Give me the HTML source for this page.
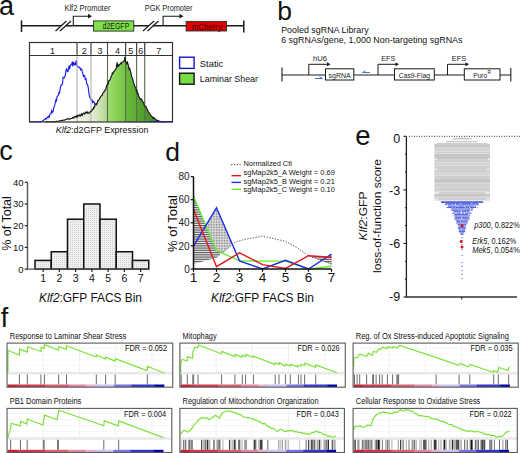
<!DOCTYPE html>
<html><head><meta charset="utf-8"><style>
html,body{margin:0;padding:0;background:#fff;width:520px;height:453px;overflow:hidden}
svg{display:block}
text{font-family:"Liberation Sans",sans-serif}
</style></head><body>
<svg width="520" height="453" viewBox="0 0 520 453" font-family="Liberation Sans">
<text x="-1.00" y="14.60" font-size="27" text-anchor="start" fill="#111" >a</text>
<g stroke="#1a1a1a" stroke-width="1.5" fill="none">
<line x1="21.5" y1="25.7" x2="243.8" y2="25.7"/>
<line x1="21.5" y1="20.4" x2="21.5" y2="32"/>
<line x1="243.8" y1="20.6" x2="243.8" y2="32.6"/>
</g>
<polygon points="55.5,31 66.5,21 71.0,21 60.0,31" fill="#fff"/>
<line x1="55.5" y1="31" x2="66.5" y2="21" stroke="#1a1a1a" stroke-width="1.2"/>
<line x1="60.0" y1="31" x2="71.0" y2="21" stroke="#1a1a1a" stroke-width="1.2"/>
<polygon points="143,31 154,21 158.5,21 147.5,31" fill="#fff"/>
<line x1="143" y1="31" x2="154" y2="21" stroke="#1a1a1a" stroke-width="1.2"/>
<line x1="147.5" y1="31" x2="158.5" y2="21" stroke="#1a1a1a" stroke-width="1.2"/>
<polyline points="73.3,25.7 73.3,16.2 89,16.2" fill="none" stroke="#1a1a1a" stroke-width="1.1"/>
<polygon points="88,13.8 92,16.2 88,18.6" fill="#1a1a1a"/>
<polyline points="163.1,25.7 163.1,16.2 180.5,16.2" fill="none" stroke="#1a1a1a" stroke-width="1.1"/>
<polygon points="179.5,13.8 183.5,16.2 179.5,18.6" fill="#1a1a1a"/>
<rect x="93.5" y="20.9" width="40.3" height="10.2" fill="#80e04c" stroke="#2a2a2a" stroke-width="0.9"/>
<text x="115.90" y="29.40" font-size="8.3" text-anchor="middle" fill="#142008" textLength="26.8" lengthAdjust="spacingAndGlyphs" >d2EGFP</text>
<rect x="186.1" y="21.4" width="40.4" height="9.6" fill="#e00000" stroke="#2a2a2a" stroke-width="0.9"/>
<text x="206.80" y="29.80" font-size="8.3" text-anchor="middle" fill="#3a0000" textLength="30" lengthAdjust="spacingAndGlyphs" >mCherry</text>
<text x="64.40" y="10.80" font-size="8.5" text-anchor="start" fill="#1a1a1a" textLength="46" lengthAdjust="spacingAndGlyphs" >Klf2 Promoter</text>
<text x="144.80" y="10.80" font-size="8.5" text-anchor="start" fill="#1a1a1a" textLength="47.7" lengthAdjust="spacingAndGlyphs" >PGK Promoter</text>
<defs><clipPath id="gclip"><path d="M29.5,121.8 L29.5,121.8 L30.1,121.8 L30.7,121.8 L31.3,121.8 L31.9,121.8 L32.5,121.8 L33.1,121.8 L33.7,121.8 L34.3,121.8 L34.9,121.8 L35.5,121.8 L36.1,121.8 L36.7,121.8 L37.3,121.8 L37.9,121.8 L38.5,121.8 L39.1,121.8 L39.7,121.8 L40.3,121.8 L40.9,121.8 L41.5,121.8 L42.1,121.8 L42.7,121.8 L43.3,121.8 L43.9,121.8 L44.5,121.8 L45.1,121.8 L45.7,121.8 L46.3,121.8 L46.9,121.8 L47.5,121.8 L48.1,121.8 L48.7,121.8 L49.3,121.8 L49.9,121.8 L50.5,121.8 L51.1,121.8 L51.7,121.8 L52.3,121.8 L52.9,121.7 L53.5,121.7 L54.1,121.7 L54.7,121.6 L55.3,121.6 L55.9,121.5 L56.5,121.4 L57.1,121.3 L57.7,121.3 L58.3,121.2 L58.9,121.1 L59.5,120.9 L60.1,120.8 L60.7,120.7 L61.3,120.4 L61.9,120.7 L62.5,120.3 L63.1,120.2 L63.7,120.1 L64.3,120.1 L64.9,120.0 L65.5,119.6 L66.1,119.3 L66.7,119.1 L67.3,118.9 L67.9,119.3 L68.5,118.6 L69.1,118.9 L69.7,119.1 L70.3,119.0 L70.9,118.5 L71.5,118.4 L72.1,118.5 L72.7,117.5 L73.3,117.3 L73.9,118.1 L74.5,116.6 L75.1,116.4 L75.7,117.0 L76.3,117.2 L76.9,115.7 L77.5,116.8 L78.1,115.2 L78.7,115.6 L79.3,116.0 L79.9,114.8 L80.5,115.9 L81.1,114.9 L81.7,113.8 L82.3,115.3 L82.9,114.0 L83.5,113.3 L84.1,112.8 L84.7,114.2 L85.3,113.3 L85.9,112.0 L86.5,112.5 L87.1,113.2 L87.7,111.9 L88.3,113.0 L88.9,113.3 L89.5,112.9 L90.1,111.7 L90.7,111.9 L91.3,111.0 L91.9,110.8 L92.5,109.2 L93.1,109.4 L93.7,107.3 L94.3,107.6 L94.9,105.6 L95.5,104.6 L96.1,103.5 L96.7,104.6 L97.3,102.9 L97.9,100.5 L98.5,100.6 L99.1,99.5 L99.7,98.0 L100.3,97.8 L100.9,96.2 L101.5,95.7 L102.1,95.5 L102.7,93.4 L103.3,92.8 L103.9,92.1 L104.5,90.7 L105.1,90.3 L105.7,89.4 L106.3,87.0 L106.9,84.9 L107.5,84.0 L108.1,84.2 L108.7,80.8 L109.3,80.8 L109.9,79.9 L110.5,78.5 L111.1,76.7 L111.7,75.7 L112.3,73.0 L112.9,73.6 L113.5,72.2 L114.1,71.0 L114.7,70.9 L115.3,69.6 L115.9,69.4 L116.5,66.4 L117.1,62.3 L117.7,66.5 L118.3,65.1 L118.9,65.8 L119.5,64.3 L120.1,63.9 L120.7,63.1 L121.3,64.0 L121.9,62.2 L122.5,62.1 L123.1,61.9 L123.7,61.0 L124.3,60.9 L124.9,56.8 L125.5,61.7 L126.1,62.1 L126.7,63.7 L127.3,62.1 L127.9,63.7 L128.5,66.0 L129.1,69.2 L129.7,68.4 L130.3,70.6 L130.9,72.4 L131.5,76.1 L132.1,77.5 L132.7,79.1 L133.3,81.8 L133.9,83.4 L134.5,86.2 L135.1,86.7 L135.7,86.9 L136.3,90.9 L136.9,90.5 L137.5,93.4 L138.1,93.5 L138.7,96.0 L139.3,97.3 L139.9,98.6 L140.5,99.6 L141.1,98.8 L141.7,99.1 L142.3,101.6 L142.9,101.9 L143.5,102.1 L144.1,105.0 L144.7,105.8 L145.3,106.5 L145.9,106.4 L146.5,108.5 L147.1,109.1 L147.7,110.6 L148.3,111.9 L148.9,112.4 L149.5,113.4 L150.1,114.3 L150.7,115.6 L151.3,115.8 L151.9,116.7 L152.5,117.2 L153.1,118.1 L153.7,117.5 L154.3,118.5 L154.9,118.8 L155.5,119.2 L156.1,120.0 L156.7,120.1 L157.3,120.4 L157.9,120.5 L158.5,120.8 L159.1,121.0 L159.7,121.2 L160.3,121.4 L160.9,121.5 L161.5,121.6 L162.1,121.6 L162.7,121.7 L163.3,121.7 L163.9,121.7 L164.5,121.8 L165.1,121.8 L165.7,121.8 L166.3,121.8 L166.9,121.8 L167.5,121.8 L168.1,121.8 L168.7,121.8 L169.3,121.8 L169.9,121.8 L170.5,121.8 L171.1,121.8 L171.7,121.8 L172.3,121.8 L172.5,121.8 Z"/></clipPath>
<linearGradient id="gg0" x1="0" x2="1" y1="0" y2="0"><stop offset="0" stop-color="#ffffff"/><stop offset="1" stop-color="#f4f8ee"/></linearGradient>
<linearGradient id="gg1" x1="0" x2="1" y1="0" y2="0"><stop offset="0" stop-color="#eef4e4"/><stop offset="1" stop-color="#dfecce"/></linearGradient>
<linearGradient id="gg2" x1="0" x2="1" y1="0" y2="0"><stop offset="0" stop-color="#e6efd8"/><stop offset="1" stop-color="#b4d690"/></linearGradient>
<linearGradient id="gg3" x1="0" x2="1" y1="0" y2="0"><stop offset="0" stop-color="#9ede70"/><stop offset="1" stop-color="#72c440"/></linearGradient>
<linearGradient id="gg4" x1="0" x2="1" y1="0" y2="0"><stop offset="0" stop-color="#6aba3a"/><stop offset="1" stop-color="#5cac30"/></linearGradient>
<linearGradient id="gg5" x1="0" x2="1" y1="0" y2="0"><stop offset="0" stop-color="#5aa630"/><stop offset="1" stop-color="#529e2a"/></linearGradient>
<linearGradient id="gg6" x1="0" x2="1" y1="0" y2="0"><stop offset="0" stop-color="#4e9828"/><stop offset="1" stop-color="#408a20"/></linearGradient>
</defs>
<polyline points="29.5,121.8 30.1,121.8 30.7,121.8 31.3,121.8 31.9,121.8 32.5,121.8 33.1,121.8 33.7,121.8 34.3,121.8 34.9,121.8 35.5,121.8 36.1,121.8 36.7,121.8 37.3,121.8 37.9,121.8 38.5,121.8 39.1,121.8 39.7,121.8 40.3,121.8 40.9,121.7 41.5,121.5 42.1,121.3 42.7,120.9 43.3,120.6 43.9,120.0 44.5,119.4 45.1,119.2 45.7,118.5 46.3,119.1 46.9,117.9 47.5,117.1 48.1,117.8 48.7,116.2 49.3,116.8 49.9,114.0 50.5,113.7 51.1,113.7 51.7,110.8 52.3,112.4 52.9,111.9 53.5,109.4 54.1,106.7 54.7,105.4 55.3,102.7 55.9,99.9 56.5,100.8 57.1,96.6 57.7,95.9 58.3,95.3 58.9,92.6 59.5,92.9 60.1,89.4 60.7,86.1 61.3,84.9 61.9,85.0 62.5,83.6 63.1,77.3 63.7,77.5 64.3,77.7 64.9,76.2 65.5,74.3 66.1,69.6 66.7,68.8 67.3,71.3 67.9,71.8 68.5,69.2 69.1,65.6 69.7,69.1 70.3,65.4 70.9,65.0 71.5,64.5 72.1,62.8 72.7,66.3 73.3,61.8 73.9,64.2 74.5,64.9 75.1,63.2 75.7,64.3 76.3,60.2 76.9,64.8 77.5,66.8 78.1,66.9 78.7,67.1 79.3,67.6 79.9,67.6 80.5,69.8 81.1,69.0 81.7,69.1 82.3,71.7 82.9,73.9 83.5,76.4 84.1,75.5 84.7,75.7 85.3,79.8 85.9,78.0 86.5,82.8 87.1,84.5 87.7,84.8 88.3,88.2 88.9,93.2 89.5,96.8 90.1,97.7 90.7,99.3 91.3,100.1 91.9,99.6 92.5,103.2 93.1,101.3 93.7,101.7 94.3,102.3 94.9,104.7 95.5,105.3 96.1,107.3 96.7,107.3 97.3,108.8 97.9,109.9 98.5,111.6 99.1,112.8 99.7,112.6 100.3,112.0 100.9,113.7 101.5,114.3 102.1,115.5 102.7,116.6 103.3,116.8 103.9,116.5 104.5,117.5 105.1,117.0 105.7,117.6 106.3,118.3 106.9,118.9 107.5,118.9 108.1,119.7 108.7,119.4 109.3,119.3 109.9,120.0 110.5,120.1 111.1,120.1 111.7,120.0 112.3,120.1 112.9,120.5 113.5,120.3 114.1,120.4 114.7,120.3 115.3,120.5 115.9,120.7 116.5,120.5 117.1,120.6 117.7,120.7 118.3,120.8 118.9,120.9 119.5,120.9 120.1,121.0 120.7,121.1 121.3,121.1 121.9,121.2 122.5,121.2 123.1,121.3 123.7,121.3 124.3,121.4 124.9,121.4 125.5,121.5 126.1,121.5 126.7,121.5 127.3,121.6 127.9,121.6 128.5,121.6 129.1,121.6 129.7,121.7 130.3,121.7 130.9,121.7 131.5,121.7 132.1,121.7 132.7,121.8 133.3,121.8 133.9,121.8 134.5,121.8 135.1,121.8 135.7,121.8 136.3,121.8 136.9,121.8 137.5,121.8 138.1,121.8 138.7,121.8 139.3,121.8 139.9,121.8 140.5,121.8 141.1,121.8 141.7,121.8 142.3,121.8 142.9,121.8 143.5,121.8 144.1,121.8 144.7,121.8 145.3,121.8 145.9,121.8 146.5,121.8 147.1,121.8 147.7,121.8 148.3,121.8 148.9,121.8 149.5,121.8 150.1,121.8 150.7,121.8 151.3,121.8 151.9,121.8 152.5,121.8 153.1,121.8 153.7,121.8 154.3,121.8 154.9,121.8 155.5,121.8 156.1,121.8 156.7,121.8 157.3,121.8 157.9,121.8 158.5,121.8 159.1,121.8 159.7,121.8 160.3,121.8 160.9,121.8 161.5,121.8 162.1,121.8 162.7,121.8 163.3,121.8 163.9,121.8 164.5,121.8 165.1,121.8 165.7,121.8 166.3,121.8 166.9,121.8 167.5,121.8 168.1,121.8 168.7,121.8 169.3,121.8 169.9,121.8 170.5,121.8 171.1,121.8 171.7,121.8 172.3,121.8" fill="none" stroke="#1414f0" stroke-width="1.1"/>
<g clip-path="url(#gclip)">
<rect x="29.5" y="42.5" width="47.5" height="79.5" fill="url(#gg0)"/>
<rect x="77" y="42.5" width="14" height="79.5" fill="url(#gg1)"/>
<rect x="91" y="42.5" width="16.5" height="79.5" fill="url(#gg2)"/>
<rect x="107.5" y="42.5" width="18.099999999999994" height="79.5" fill="url(#gg3)"/>
<rect x="125.6" y="42.5" width="11.0" height="79.5" fill="url(#gg4)"/>
<rect x="136.6" y="42.5" width="8.099999999999994" height="79.5" fill="url(#gg5)"/>
<rect x="144.7" y="42.5" width="27.80000000000001" height="79.5" fill="url(#gg6)"/>
</g>
<line x1="77" y1="42.5" x2="77" y2="122" stroke="#b4b4b4" stroke-width="1.1"/>
<line x1="91" y1="42.5" x2="91" y2="122" stroke="#b4b4b4" stroke-width="1.1"/>
<line x1="107.5" y1="42.5" x2="107.5" y2="122" stroke="#5a6a50" stroke-width="1.1"/>
<line x1="125.6" y1="42.5" x2="125.6" y2="122" stroke="#5a6a50" stroke-width="1.1"/>
<line x1="136.6" y1="42.5" x2="136.6" y2="122" stroke="#5a6a50" stroke-width="1.1"/>
<line x1="144.7" y1="42.5" x2="144.7" y2="122" stroke="#5a6a50" stroke-width="1.1"/>
<polyline points="45.1,121.8 45.7,121.8 46.3,121.8 46.9,121.8 47.5,121.8 48.1,121.8 48.7,121.8 49.3,121.8 49.9,121.8 50.5,121.8 51.1,121.8 51.7,121.8 52.3,121.8 52.9,121.7 53.5,121.7 54.1,121.7 54.7,121.6 55.3,121.6 55.9,121.5 56.5,121.4 57.1,121.3 57.7,121.3 58.3,121.2 58.9,121.1 59.5,120.9 60.1,120.8 60.7,120.7 61.3,120.4 61.9,120.7 62.5,120.3 63.1,120.2 63.7,120.1 64.3,120.1 64.9,120.0 65.5,119.6 66.1,119.3 66.7,119.1 67.3,118.9 67.9,119.3 68.5,118.6 69.1,118.9 69.7,119.1 70.3,119.0 70.9,118.5 71.5,118.4 72.1,118.5 72.7,117.5 73.3,117.3 73.9,118.1 74.5,116.6 75.1,116.4 75.7,117.0 76.3,117.2 76.9,115.7 77.5,116.8 78.1,115.2 78.7,115.6 79.3,116.0 79.9,114.8 80.5,115.9 81.1,114.9 81.7,113.8 82.3,115.3 82.9,114.0 83.5,113.3 84.1,112.8 84.7,114.2 85.3,113.3 85.9,112.0 86.5,112.5 87.1,113.2 87.7,111.9 88.3,113.0 88.9,113.3 89.5,112.9 90.1,111.7 90.7,111.9 91.3,111.0 91.9,110.8 92.5,109.2 93.1,109.4 93.7,107.3 94.3,107.6 94.9,105.6 95.5,104.6 96.1,103.5 96.7,104.6 97.3,102.9 97.9,100.5 98.5,100.6 99.1,99.5 99.7,98.0 100.3,97.8 100.9,96.2 101.5,95.7 102.1,95.5 102.7,93.4 103.3,92.8 103.9,92.1 104.5,90.7 105.1,90.3 105.7,89.4 106.3,87.0 106.9,84.9 107.5,84.0 108.1,84.2 108.7,80.8 109.3,80.8 109.9,79.9 110.5,78.5 111.1,76.7 111.7,75.7 112.3,73.0 112.9,73.6 113.5,72.2 114.1,71.0 114.7,70.9 115.3,69.6 115.9,69.4 116.5,66.4 117.1,62.3 117.7,66.5 118.3,65.1 118.9,65.8 119.5,64.3 120.1,63.9 120.7,63.1 121.3,64.0 121.9,62.2 122.5,62.1 123.1,61.9 123.7,61.0 124.3,60.9 124.9,56.8 125.5,61.7 126.1,62.1 126.7,63.7 127.3,62.1 127.9,63.7 128.5,66.0 129.1,69.2 129.7,68.4 130.3,70.6 130.9,72.4 131.5,76.1 132.1,77.5 132.7,79.1 133.3,81.8 133.9,83.4 134.5,86.2 135.1,86.7 135.7,86.9 136.3,90.9 136.9,90.5 137.5,93.4 138.1,93.5 138.7,96.0 139.3,97.3 139.9,98.6 140.5,99.6 141.1,98.8 141.7,99.1 142.3,101.6 142.9,101.9 143.5,102.1 144.1,105.0 144.7,105.8 145.3,106.5 145.9,106.4 146.5,108.5 147.1,109.1 147.7,110.6 148.3,111.9 148.9,112.4 149.5,113.4 150.1,114.3 150.7,115.6 151.3,115.8 151.9,116.7 152.5,117.2 153.1,118.1 153.7,117.5 154.3,118.5 154.9,118.8 155.5,119.2 156.1,120.0 156.7,120.1 157.3,120.4 157.9,120.5 158.5,120.8 159.1,121.0 159.7,121.2 160.3,121.4 160.9,121.5 161.5,121.6 162.1,121.6 162.7,121.7 163.3,121.7 163.9,121.7 164.5,121.8 165.1,121.8 165.7,121.8" fill="none" stroke="#111" stroke-width="1.1"/>
<line x1="150" y1="121.5" x2="172.5" y2="121.5" stroke="#1414f0" stroke-width="1"/>
<rect x="29.5" y="42.5" width="143.0" height="79.5" fill="none" stroke="#333" stroke-width="1.2"/>
<line x1="29.5" y1="55.5" x2="172.5" y2="55.5" stroke="#333" stroke-width="1"/>
<line x1="77" y1="42.5" x2="77" y2="55.5" stroke="#444" stroke-width="1"/>
<line x1="91" y1="42.5" x2="91" y2="55.5" stroke="#444" stroke-width="1"/>
<line x1="107.5" y1="42.5" x2="107.5" y2="55.5" stroke="#444" stroke-width="1"/>
<line x1="125.6" y1="42.5" x2="125.6" y2="55.5" stroke="#444" stroke-width="1"/>
<line x1="136.6" y1="42.5" x2="136.6" y2="55.5" stroke="#444" stroke-width="1"/>
<line x1="144.7" y1="42.5" x2="144.7" y2="55.5" stroke="#444" stroke-width="1"/>
<text x="52.50" y="53.60" font-size="9" text-anchor="middle" fill="#222" >1</text>
<text x="84.20" y="53.60" font-size="9" text-anchor="middle" fill="#222" >2</text>
<text x="100.00" y="53.60" font-size="9" text-anchor="middle" fill="#222" >3</text>
<text x="117.50" y="53.60" font-size="9" text-anchor="middle" fill="#222" >4</text>
<text x="130.80" y="53.60" font-size="9" text-anchor="middle" fill="#222" >5</text>
<text x="140.70" y="53.60" font-size="9" text-anchor="middle" fill="#222" >6</text>
<text x="158.70" y="53.60" font-size="9" text-anchor="middle" fill="#222" >7</text>
<text x="55.70" y="132.60" font-size="9.6" text-anchor="start" fill="#111" textLength="92.7" lengthAdjust="spacingAndGlyphs" ><tspan font-style="italic">Klf2</tspan>:d2GFP Expression</text>
<rect x="179.6" y="57.2" width="14.5" height="11.2" fill="#fff" stroke="#1515cc" stroke-width="1.4"/>
<rect x="179.6" y="73.2" width="14.5" height="11" fill="#77dd44" stroke="#111" stroke-width="1.4"/>
<text x="199.80" y="66.80" font-size="9.6" text-anchor="start" fill="#111" textLength="23.5" lengthAdjust="spacingAndGlyphs" >Static</text>
<text x="199.80" y="82.40" font-size="9.4" text-anchor="start" fill="#111" textLength="58.2" lengthAdjust="spacingAndGlyphs" >Laminar Shear</text>
<text x="277.20" y="19.50" font-size="26.5" text-anchor="start" fill="#111" >b</text>
<text x="281.20" y="32.80" font-size="9.4" text-anchor="start" fill="#111" textLength="87.5" lengthAdjust="spacingAndGlyphs" >Pooled sgRNA Library</text>
<text x="281.20" y="42.90" font-size="9.4" text-anchor="start" fill="#111" textLength="181.3" lengthAdjust="spacingAndGlyphs" >6 sgRNAs/gene, 1,000 Non-targeting sgRNAs</text>
<g stroke="#1a1a1a" stroke-width="1.1" fill="none">
<line x1="282" y1="75" x2="510.8" y2="75"/>
<line x1="282" y1="67.5" x2="282" y2="81.5"/>
<line x1="510.8" y1="68" x2="510.8" y2="81.5"/>
</g>
<polyline points="308.8,75 308.8,64.3 327.5,64.3" fill="none" stroke="#1a1a1a" stroke-width="1"/>
<polygon points="327.0,62.3 330.5,64.3 327.0,66.3" fill="#1a1a1a"/>
<polyline points="378,75 378,64.3 396,64.3" fill="none" stroke="#1a1a1a" stroke-width="1"/>
<polygon points="395.5,62.3 399,64.3 395.5,66.3" fill="#1a1a1a"/>
<polyline points="447.5,75 447.5,64.3 466,64.3" fill="none" stroke="#1a1a1a" stroke-width="1"/>
<polygon points="465.5,62.3 469,64.3 465.5,66.3" fill="#1a1a1a"/>
<rect x="325.5" y="68.8" width="28.30000000000001" height="11.2" fill="#fff" stroke="#1a1a1a" stroke-width="1"/>
<rect x="394.5" y="68.8" width="39.80000000000001" height="11.2" fill="#fff" stroke="#1a1a1a" stroke-width="1"/>
<rect x="464.3" y="68.8" width="35.69999999999999" height="11.2" fill="#fff" stroke="#1a1a1a" stroke-width="1"/>
<text x="339.60" y="77.80" font-size="8" text-anchor="middle" fill="#1a1a1a" textLength="22" lengthAdjust="spacingAndGlyphs" >sgRNA</text>
<text x="414.40" y="77.80" font-size="8" text-anchor="middle" fill="#1a1a1a" textLength="31.3" lengthAdjust="spacingAndGlyphs" >Cas9-Flag</text>
<text x="473.30" y="77.80" font-size="8" text-anchor="start" fill="#1a1a1a" textLength="13.8" lengthAdjust="spacingAndGlyphs" >Puro</text>
<text x="487.60" y="73.80" font-size="4.8" text-anchor="start" fill="#1a1a1a" >R</text>
<text x="320.00" y="61.30" font-size="8" text-anchor="middle" fill="#1a1a1a" textLength="14" lengthAdjust="spacingAndGlyphs" >hU6</text>
<text x="388.20" y="61.30" font-size="8" text-anchor="middle" fill="#1a1a1a" textLength="14" lengthAdjust="spacingAndGlyphs" >EFS</text>
<text x="459.00" y="61.30" font-size="8" text-anchor="middle" fill="#1a1a1a" textLength="14.5" lengthAdjust="spacingAndGlyphs" >EFS</text>
<polyline points="315,78.5 322.5,78.5 319.5,76.8" fill="none" stroke="#4a6fd0" stroke-width="1"/>
<polyline points="370,72.5 362.5,72.5 365.5,70.8" fill="none" stroke="#4a6fd0" stroke-width="1"/>
<text x="-0.70" y="160.20" font-size="27" text-anchor="start" fill="#111" >c</text>
<defs><pattern id="dots" width="2" height="2" patternUnits="userSpaceOnUse"><rect width="2" height="2" fill="#f0f0f0"/><rect width="1" height="1" fill="#d0d0d0"/></pattern></defs>
<rect x="35" y="260.42" width="16.25" height="8.68" fill="url(#dots)" stroke="#111" stroke-width="1.5"/>
<rect x="51.25" y="251.74" width="16.25" height="17.36" fill="url(#dots)" stroke="#111" stroke-width="1.5"/>
<rect x="67.5" y="219.19" width="16.25" height="49.91" fill="url(#dots)" stroke="#111" stroke-width="1.5"/>
<rect x="83.75" y="204.00" width="16.25" height="65.10" fill="url(#dots)" stroke="#111" stroke-width="1.5"/>
<rect x="100" y="219.19" width="16.25" height="49.91" fill="url(#dots)" stroke="#111" stroke-width="1.5"/>
<rect x="116.25" y="251.74" width="16.25" height="17.36" fill="url(#dots)" stroke="#111" stroke-width="1.5"/>
<rect x="132.5" y="260.42" width="16.25" height="8.68" fill="url(#dots)" stroke="#111" stroke-width="1.5"/>
<line x1="27.5" y1="182.3" x2="27.5" y2="269.1" stroke="#555" stroke-width="1.4"/>
<line x1="26.8" y1="269.1" x2="148.75" y2="269.1" stroke="#555" stroke-width="1.4"/>
<line x1="24.7" y1="269.10" x2="27.5" y2="269.10" stroke="#222" stroke-width="1.2"/>
<text x="23.50" y="272.50" font-size="9.5" text-anchor="end" fill="#111" >0</text>
<line x1="24.7" y1="247.40" x2="27.5" y2="247.40" stroke="#222" stroke-width="1.2"/>
<text x="23.50" y="250.80" font-size="9.5" text-anchor="end" fill="#111" >10</text>
<line x1="24.7" y1="225.70" x2="27.5" y2="225.70" stroke="#222" stroke-width="1.2"/>
<text x="23.50" y="229.10" font-size="9.5" text-anchor="end" fill="#111" >20</text>
<line x1="24.7" y1="204.00" x2="27.5" y2="204.00" stroke="#222" stroke-width="1.2"/>
<text x="23.50" y="207.40" font-size="9.5" text-anchor="end" fill="#111" >30</text>
<line x1="24.7" y1="182.30" x2="27.5" y2="182.30" stroke="#222" stroke-width="1.2"/>
<text x="23.50" y="185.70" font-size="9.5" text-anchor="end" fill="#111" >40</text>
<line x1="43.125" y1="269.1" x2="43.125" y2="271.90000000000003" stroke="#222" stroke-width="1.2"/>
<text x="43.12" y="282.40" font-size="10.5" text-anchor="middle" fill="#111" >1</text>
<line x1="59.375" y1="269.1" x2="59.375" y2="271.90000000000003" stroke="#222" stroke-width="1.2"/>
<text x="59.38" y="282.40" font-size="10.5" text-anchor="middle" fill="#111" >2</text>
<line x1="75.625" y1="269.1" x2="75.625" y2="271.90000000000003" stroke="#222" stroke-width="1.2"/>
<text x="75.62" y="282.40" font-size="10.5" text-anchor="middle" fill="#111" >3</text>
<line x1="91.875" y1="269.1" x2="91.875" y2="271.90000000000003" stroke="#222" stroke-width="1.2"/>
<text x="91.88" y="282.40" font-size="10.5" text-anchor="middle" fill="#111" >4</text>
<line x1="108.125" y1="269.1" x2="108.125" y2="271.90000000000003" stroke="#222" stroke-width="1.2"/>
<text x="108.12" y="282.40" font-size="10.5" text-anchor="middle" fill="#111" >5</text>
<line x1="124.375" y1="269.1" x2="124.375" y2="271.90000000000003" stroke="#222" stroke-width="1.2"/>
<text x="124.38" y="282.40" font-size="10.5" text-anchor="middle" fill="#111" >6</text>
<line x1="140.625" y1="269.1" x2="140.625" y2="271.90000000000003" stroke="#222" stroke-width="1.2"/>
<text x="140.62" y="282.40" font-size="10.5" text-anchor="middle" fill="#111" >7</text>
<text x="0.00" y="0.00" font-size="12.5" text-anchor="middle" fill="#111" transform="translate(10.8,223.5) rotate(-90)">% of Total</text>
<text x="39.00" y="302.30" font-size="12.3" text-anchor="start" fill="#111" textLength="103" lengthAdjust="spacingAndGlyphs" ><tspan font-style="italic">Klf2</tspan>:GFP FACS Bin</text>
<text x="165.30" y="161.00" font-size="26.5" text-anchor="start" fill="#111" >d</text>
<defs><pattern id="hatch" width="3" height="1.8" patternUnits="userSpaceOnUse"><rect width="3" height="1.8" fill="#ececec"/><rect width="3" height="0.8" fill="#444"/></pattern>
<pattern id="hatch2" width="3" height="1.8" patternUnits="userSpaceOnUse" y="0.9"><rect width="3" height="0.7" fill="#444"/></pattern>
<pattern id="stip" width="1.6" height="1.6" patternUnits="userSpaceOnUse"><rect width="1.6" height="1.6" fill="#dadada"/><rect width="0.8" height="0.8" fill="#7a7a7a"/></pattern></defs>
<path d="M193.5,196.2 L194.1,197.6 L194.7,198.9 L195.2,200.3 L195.8,201.7 L196.4,203.0 L196.9,204.4 L197.5,205.7 L198.1,207.1 L198.7,208.4 L199.2,209.8 L199.8,211.2 L200.4,212.5 L201.0,213.9 L201.6,215.2 L202.1,216.6 L202.7,217.9 L203.3,219.3 L203.8,220.7 L204.4,222.0 L205.0,223.4 L205.6,224.7 L206.2,225.1 L206.7,224.1 L207.3,223.2 L207.9,222.2 L208.4,221.2 L209.0,220.3 L209.6,219.3 L210.2,218.4 L210.8,217.4 L211.3,216.4 L211.9,215.5 L212.5,214.5 L213.1,213.6 L213.6,212.6 L214.2,211.6 L214.8,210.7 L215.3,209.7 L215.9,208.7 L216.5,207.8 L217.1,209.1 L217.7,210.4 L218.2,211.8 L218.8,213.1 L219.4,214.4 L219.9,215.8 L220.5,217.1 L221.1,218.4 L221.7,219.7 L222.2,221.1 L222.8,222.4 L223.4,223.7 L224.0,225.1 L224.6,226.4 L225.1,227.7 L225.7,229.0 L226.3,230.4 L226.8,231.7 L227.4,233.0 L228.0,234.3 L228.6,235.7 L229.2,237.0 L229.7,238.3 L230.3,239.7 L230.9,241.0 L231.4,242.3 L232.0,243.6 L232.6,244.3 L233.2,243.9 L233.8,243.4 L234.3,242.9 L234.9,242.4 L235.5,242.3 L236.1,242.1 L236.6,241.9 L237.2,241.7 L237.8,241.5 L238.3,241.4 L238.9,241.2 L239.5,241.0 L240.1,240.8 L240.7,240.6 L241.2,240.4 L241.8,240.3 L242.4,240.1 L242.9,239.9 L243.5,239.7 L244.1,239.5 L244.7,239.4 L245.2,239.3 L245.8,239.2 L246.4,239.1 L247.0,239.0 L247.6,238.9 L248.1,238.8 L248.7,238.7 L249.3,238.6 L249.8,238.5 L250.4,238.4 L251.0,238.3 L251.6,238.2 L252.2,238.1 L252.7,238.0 L253.3,237.9 L253.9,237.8 L254.4,237.7 L255.0,237.6 L255.6,237.5 L256.2,237.3 L256.8,237.2 L257.3,237.1 L257.9,237.0 L258.5,236.9 L259.1,236.8 L259.6,236.7 L260.2,236.6 L260.8,236.5 L261.4,236.4 L261.9,236.3 L262.5,236.2 L263.1,236.3 L263.6,236.5 L264.2,236.6 L264.8,236.7 L265.4,236.8 L265.9,237.0 L266.5,237.1 L267.1,237.2 L267.7,237.3 L268.2,237.5 L268.8,237.6 L269.4,237.7 L270.0,237.8 L270.6,238.0 L271.1,238.1 L271.7,238.2 L272.3,238.4 L272.9,238.5 L273.4,238.6 L274.0,238.7 L274.6,238.9 L275.1,239.0 L275.7,239.1 L276.3,239.2 L276.9,239.4 L277.4,239.5 L278.0,239.6 L278.6,239.8 L279.2,239.9 L279.8,240.0 L280.3,240.1 L280.9,240.3 L281.5,240.4 L282.1,240.5 L282.6,240.6 L283.2,240.8 L283.8,240.9 L284.4,241.0 L284.9,241.2 L285.5,241.3 L286.1,241.6 L286.6,241.9 L287.2,242.2 L287.8,242.6 L288.4,242.9 L288.9,243.2 L289.5,243.5 L290.1,243.8 L290.7,244.1 L291.2,244.5 L291.8,244.8 L292.4,245.1 L293.0,245.4 L293.6,245.7 L294.1,246.0 L294.7,246.4 L295.3,246.7 L295.9,247.0 L296.4,247.3 L297.0,247.6 L297.6,248.0 L298.1,248.5 L298.7,248.9 L299.3,249.3 L299.9,249.7 L300.4,250.1 L301.0,250.5 L301.6,250.9 L302.2,251.3 L302.8,251.7 L303.3,252.1 L303.9,252.6 L304.5,253.0 L305.1,253.4 L305.6,253.8 L306.2,254.2 L306.8,254.6 L307.4,255.0 L307.9,255.4 L308.5,255.7 L309.1,255.8 L309.6,255.8 L310.2,255.8 L310.8,255.9 L311.4,255.9 L311.9,255.9 L312.5,256.0 L313.1,256.0 L313.7,256.1 L314.2,256.1 L314.8,256.1 L315.4,256.2 L316.0,256.2 L316.6,256.2 L317.1,256.3 L317.7,256.3 L318.3,256.4 L318.9,256.4 L319.4,256.4 L320.0,256.5 L320.6,256.5 L321.1,256.5 L321.7,256.6 L322.3,256.6 L322.9,256.7 L323.5,256.7 L324.0,256.7 L324.6,256.8 L325.2,256.8 L325.8,256.8 L326.3,256.9 L326.9,256.9 L327.5,256.8 L328.0,256.4 L328.6,256.1 L329.2,255.7 L329.8,255.3 L330.4,255.0 L330.9,254.6 L331.5,254.2 L331.5,264.0 L330.9,263.8 L330.4,263.6 L329.8,263.4 L329.2,263.2 L328.6,263.0 L328.0,262.8 L327.5,262.6 L326.9,262.4 L326.3,262.2 L325.8,262.0 L325.2,261.8 L324.6,261.6 L324.0,261.4 L323.5,261.2 L322.9,261.0 L322.3,260.8 L321.7,260.5 L321.1,260.3 L320.6,260.1 L320.0,259.9 L319.4,259.7 L318.9,259.5 L318.3,259.3 L317.7,259.1 L317.1,258.9 L316.6,258.7 L316.0,258.5 L315.4,258.3 L314.8,258.1 L314.2,257.9 L313.7,257.7 L313.1,257.5 L312.5,257.3 L311.9,257.1 L311.4,256.9 L310.8,256.7 L310.2,256.4 L309.6,256.2 L309.1,256.0 L308.5,255.8 L307.9,255.4 L307.4,255.0 L306.8,254.6 L306.2,254.2 L305.6,253.8 L305.1,253.4 L304.5,253.0 L303.9,252.6 L303.3,252.1 L302.8,251.7 L302.2,251.3 L301.6,250.9 L301.0,250.5 L300.4,250.1 L299.9,249.7 L299.3,249.3 L298.7,248.9 L298.1,248.5 L297.6,248.0 L297.0,247.6 L296.4,247.3 L295.9,247.0 L295.3,246.7 L294.7,246.4 L294.1,246.0 L293.6,245.7 L293.0,245.4 L292.4,245.1 L291.8,244.8 L291.2,244.5 L290.7,244.1 L290.1,243.8 L289.5,243.5 L288.9,243.2 L288.4,242.9 L287.8,242.6 L287.2,242.2 L286.6,241.9 L286.1,241.6 L285.5,241.3 L284.9,241.2 L284.4,241.0 L283.8,240.9 L283.2,240.8 L282.6,240.6 L282.1,240.5 L281.5,240.4 L280.9,240.3 L280.3,240.1 L279.8,240.0 L279.2,239.9 L278.6,239.8 L278.0,239.6 L277.4,239.5 L276.9,239.4 L276.3,239.2 L275.7,239.1 L275.1,239.0 L274.6,238.9 L274.0,238.7 L273.4,238.6 L272.9,238.5 L272.3,238.4 L271.7,238.2 L271.1,238.1 L270.6,238.0 L270.0,237.8 L269.4,237.7 L268.8,237.6 L268.2,237.5 L267.7,237.3 L267.1,237.2 L266.5,237.1 L265.9,237.0 L265.4,236.8 L264.8,236.7 L264.2,236.6 L263.6,236.5 L263.1,236.3 L262.5,236.2 L261.9,236.3 L261.4,236.4 L260.8,236.5 L260.2,236.6 L259.6,236.7 L259.1,236.8 L258.5,236.9 L257.9,237.0 L257.3,237.1 L256.8,237.2 L256.2,237.3 L255.6,237.5 L255.0,237.6 L254.4,237.7 L253.9,237.8 L253.3,237.9 L252.7,238.0 L252.2,238.1 L251.6,238.2 L251.0,238.3 L250.4,238.4 L249.8,238.5 L249.3,238.6 L248.7,238.7 L248.1,238.8 L247.6,238.9 L247.0,239.0 L246.4,239.1 L245.8,239.2 L245.2,239.3 L244.7,239.4 L244.1,239.5 L243.5,239.7 L242.9,239.9 L242.4,240.1 L241.8,240.3 L241.2,240.4 L240.7,240.6 L240.1,240.8 L239.5,241.0 L238.9,241.2 L238.3,241.4 L237.8,241.5 L237.2,241.7 L236.6,241.9 L236.1,242.1 L235.5,242.3 L234.9,242.4 L234.3,242.9 L233.8,243.4 L233.2,243.9 L232.6,244.3 L232.0,244.8 L231.4,245.3 L230.9,245.8 L230.3,246.2 L229.7,246.7 L229.2,247.2 L228.6,247.7 L228.0,248.2 L227.4,248.6 L226.8,249.1 L226.3,249.6 L225.7,250.1 L225.1,250.5 L224.6,251.0 L224.0,251.5 L223.4,252.0 L222.8,252.4 L222.2,252.9 L221.7,253.4 L221.1,253.9 L220.5,254.3 L219.9,254.8 L219.4,255.3 L218.8,255.8 L218.2,256.3 L217.7,256.7 L217.1,257.2 L216.5,257.7 L215.9,257.8 L215.3,258.0 L214.8,258.1 L214.2,258.3 L213.6,258.4 L213.1,258.6 L212.5,258.8 L211.9,258.9 L211.3,259.1 L210.8,259.2 L210.2,259.4 L209.6,259.5 L209.0,259.7 L208.4,259.8 L207.9,260.0 L207.3,260.1 L206.7,260.3 L206.2,260.4 L205.6,260.6 L205.0,260.7 L204.4,260.9 L203.8,261.0 L203.3,261.2 L202.7,261.4 L202.1,261.5 L201.6,261.7 L201.0,261.8 L200.4,262.0 L199.8,262.1 L199.2,262.3 L198.7,262.4 L198.1,262.6 L197.5,262.7 L196.9,262.9 L196.4,263.0 L195.8,263.2 L195.2,263.3 L194.7,263.5 L194.1,263.6 L193.5,263.8 Z" fill="url(#stip)"/>
<path d="M306.2,254.2 L306.8,254.6 L307.4,255.0 L307.9,255.4 L308.5,255.7 L309.1,255.8 L309.6,255.8 L310.2,255.8 L310.8,255.9 L311.4,255.9 L311.9,255.9 L312.5,256.0 L313.1,256.0 L313.7,256.1 L314.2,256.1 L314.8,256.1 L315.4,256.2 L316.0,256.2 L316.6,256.2 L317.1,256.3 L317.7,256.3 L318.3,256.4 L318.9,256.4 L319.4,256.4 L320.0,256.5 L320.6,256.5 L321.1,256.5 L321.7,256.6 L322.3,256.6 L322.9,256.7 L323.5,256.7 L324.0,256.7 L324.6,256.8 L325.2,256.8 L325.8,256.8 L326.3,256.9 L326.9,256.9 L327.5,256.8 L328.0,256.4 L328.6,256.1 L329.2,255.7 L329.8,255.3 L330.4,255.0 L330.9,254.6 L331.5,254.2 L331.5,264.0 L330.9,263.8 L330.4,263.6 L329.8,263.4 L329.2,263.2 L328.6,263.0 L328.0,262.8 L327.5,262.6 L326.9,262.4 L326.3,262.2 L325.8,262.0 L325.2,261.8 L324.6,261.6 L324.0,261.4 L323.5,261.2 L322.9,261.0 L322.3,260.8 L321.7,260.5 L321.1,260.3 L320.6,260.1 L320.0,259.9 L319.4,259.7 L318.9,259.5 L318.3,259.3 L317.7,259.1 L317.1,258.9 L316.6,258.7 L316.0,258.5 L315.4,258.3 L314.8,258.1 L314.2,257.9 L313.7,257.7 L313.1,257.5 L312.5,257.3 L311.9,257.1 L311.4,256.9 L310.8,256.7 L310.2,256.4 L309.6,256.2 L309.1,256.0 L308.5,255.8 L307.9,255.4 L307.4,255.0 L306.8,254.6 L306.2,254.2 Z" fill="url(#hatch)"/>
<path d="M193.5,196.2 L194.1,197.6 L194.7,198.9 L195.2,200.3 L195.8,201.7 L196.4,203.0 L196.9,204.4 L197.5,205.7 L198.1,207.1 L198.7,208.4 L199.2,209.8 L199.8,211.2 L200.4,212.5 L201.0,213.9 L201.6,215.2 L202.1,216.6 L202.7,217.9 L203.3,219.3 L203.8,220.7 L204.4,222.0 L205.0,223.4 L205.6,224.7 L206.2,226.1 L206.7,227.4 L207.3,228.8 L207.9,230.2 L208.4,231.5 L209.0,232.9 L209.6,234.2 L210.2,235.6 L210.8,236.9 L211.3,238.3 L211.9,239.7 L212.5,241.0 L213.1,242.4 L213.6,243.7 L214.2,245.1 L214.8,246.4 L215.3,247.8 L215.9,249.2 L216.5,250.5 L217.1,250.8 L217.7,251.0 L218.2,251.3 L218.8,251.6 L219.4,251.8 L219.9,252.1 L219.9,254.8 L219.4,255.3 L218.8,255.8 L218.2,256.3 L217.7,256.7 L217.1,257.2 L216.5,257.7 L215.9,257.8 L215.3,258.0 L214.8,258.1 L214.2,258.3 L213.6,258.4 L213.1,258.6 L212.5,258.8 L211.9,258.9 L211.3,259.1 L210.8,259.2 L210.2,259.4 L209.6,259.5 L209.0,259.7 L208.4,259.8 L207.9,260.0 L207.3,260.1 L206.7,260.3 L206.2,260.4 L205.6,260.6 L205.0,260.7 L204.4,260.9 L203.8,261.0 L203.3,261.2 L202.7,261.4 L202.1,261.5 L201.6,261.7 L201.0,261.8 L200.4,262.0 L199.8,262.1 L199.2,262.3 L198.7,262.4 L198.1,262.6 L197.5,262.7 L196.9,262.9 L196.4,263.0 L195.8,263.2 L195.2,263.3 L194.7,263.5 L194.1,263.6 L193.5,263.8 Z" fill="url(#hatch)"/>
<polyline points="223.4,252.0 224.0,251.5 224.6,251.0 225.1,250.5 225.7,250.1 226.3,249.6 226.8,249.1 227.4,248.6 228.0,248.2 228.6,247.7 229.2,247.2 229.7,246.7 230.3,246.2 230.9,245.8 231.4,245.3 232.0,244.8 232.6,244.3 233.2,243.9 233.8,243.4 234.3,242.9 234.9,242.4 235.5,242.3 236.1,242.1 236.6,241.9 237.2,241.7 237.8,241.5 238.3,241.4 238.9,241.2 239.5,241.0 240.1,240.8 240.7,240.6 241.2,240.4 241.8,240.3 242.4,240.1 242.9,239.9 243.5,239.7 244.1,239.5 244.7,239.4 245.2,239.3 245.8,239.2 246.4,239.1 247.0,239.0 247.6,238.9 248.1,238.8 248.7,238.7 249.3,238.6 249.8,238.5 250.4,238.4 251.0,238.3 251.6,238.2 252.2,238.1 252.7,238.0 253.3,237.9 253.9,237.8 254.4,237.7 255.0,237.6 255.6,237.5 256.2,237.3 256.8,237.2 257.3,237.1 257.9,237.0 258.5,236.9 259.1,236.8 259.6,236.7 260.2,236.6 260.8,236.5 261.4,236.4 261.9,236.3 262.5,236.2 263.1,236.3 263.6,236.5 264.2,236.6 264.8,236.7 265.4,236.8 265.9,237.0 266.5,237.1 267.1,237.2 267.7,237.3 268.2,237.5 268.8,237.6 269.4,237.7 270.0,237.8 270.6,238.0 271.1,238.1 271.7,238.2 272.3,238.4 272.9,238.5 273.4,238.6 274.0,238.7 274.6,238.9 275.1,239.0 275.7,239.1 276.3,239.2 276.9,239.4 277.4,239.5 278.0,239.6 278.6,239.8 279.2,239.9 279.8,240.0 280.3,240.1 280.9,240.3 281.5,240.4 282.1,240.5 282.6,240.6 283.2,240.8 283.8,240.9 284.4,241.0 284.9,241.2 285.5,241.3 286.1,241.6 286.6,241.9 287.2,242.2 287.8,242.6 288.4,242.9 288.9,243.2 289.5,243.5 290.1,243.8 290.7,244.1 291.2,244.5 291.8,244.8 292.4,245.1 293.0,245.4 293.6,245.7 294.1,246.0 294.7,246.4 295.3,246.7 295.9,247.0 296.4,247.3 297.0,247.6 297.6,248.0 298.1,248.5 298.7,248.9 299.3,249.3 299.9,249.7 300.4,250.1 301.0,250.5 301.6,250.9 302.2,251.3 302.8,251.7 303.3,252.1 303.9,252.6 304.5,253.0 305.1,253.4 305.6,253.8 306.2,254.2 306.8,254.6 307.4,255.0 307.9,255.4 308.5,255.8 309.1,256.0 309.6,256.2 310.2,256.4 310.8,256.7 311.4,256.9 311.9,257.1 312.5,257.3 313.1,257.5 313.7,257.7 314.2,257.9 314.8,258.1 315.4,258.3 316.0,258.5 316.6,258.7 317.1,258.9 317.7,259.1 318.3,259.3 318.9,259.5 319.4,259.7 320.0,259.9 320.6,260.1 321.1,260.3 321.7,260.5 322.3,260.8 322.9,261.0 323.5,261.2 324.0,261.4 324.6,261.6 325.2,261.8 325.8,262.0 326.3,262.2 326.9,262.4 327.5,262.6 328.0,262.8 328.6,263.0 329.2,263.2 329.8,263.4 330.4,263.6 330.9,263.8 331.5,264.0" fill="none" stroke="#333" stroke-width="1" stroke-dasharray="1.2,1.6"/>
<polyline points="193.5,196.2 216.5,250.5 239.5,260.9 262.5,261.1 285.5,261.1 308.5,269.0 331.5,266.2" fill="none" stroke="#66ee33" stroke-width="1.4"/>
<polyline points="193.5,246.2 216.5,207.8 239.5,260.9 262.5,269.0 285.5,260.3 308.5,269.0 331.5,254.2" fill="none" stroke="#1a2ee8" stroke-width="1.4"/>
<polyline points="193.5,209.4 216.5,266.7 239.5,252.8 262.5,264.6 285.5,268.4 308.5,255.7 331.5,257.2" fill="none" stroke="#e01818" stroke-width="1.4"/>
<line x1="193.5" y1="176.6" x2="193.5" y2="269" stroke="#111" stroke-width="1.5"/>
<line x1="192.8" y1="269" x2="331.5" y2="269" stroke="#111" stroke-width="1.5"/>
<line x1="190.7" y1="269.00" x2="193.5" y2="269.00" stroke="#111" stroke-width="1.2"/>
<text x="189.70" y="272.60" font-size="10" text-anchor="end" fill="#222" >0</text>
<line x1="190.7" y1="245.90" x2="193.5" y2="245.90" stroke="#111" stroke-width="1.2"/>
<text x="189.70" y="249.50" font-size="10" text-anchor="end" fill="#222" >20</text>
<line x1="190.7" y1="222.80" x2="193.5" y2="222.80" stroke="#111" stroke-width="1.2"/>
<text x="189.70" y="226.40" font-size="10" text-anchor="end" fill="#222" >40</text>
<line x1="190.7" y1="199.70" x2="193.5" y2="199.70" stroke="#111" stroke-width="1.2"/>
<text x="189.70" y="203.30" font-size="10" text-anchor="end" fill="#222" >60</text>
<line x1="190.7" y1="176.60" x2="193.5" y2="176.60" stroke="#111" stroke-width="1.2"/>
<text x="189.70" y="180.20" font-size="10" text-anchor="end" fill="#222" >80</text>
<line x1="193.5" y1="269" x2="193.5" y2="271.8" stroke="#111" stroke-width="1.2"/>
<text x="193.50" y="282.20" font-size="13.5" text-anchor="middle" fill="#111" >1</text>
<line x1="216.5" y1="269" x2="216.5" y2="271.8" stroke="#111" stroke-width="1.2"/>
<text x="216.50" y="282.20" font-size="13.5" text-anchor="middle" fill="#111" >2</text>
<line x1="239.5" y1="269" x2="239.5" y2="271.8" stroke="#111" stroke-width="1.2"/>
<text x="239.50" y="282.20" font-size="13.5" text-anchor="middle" fill="#111" >3</text>
<line x1="262.5" y1="269" x2="262.5" y2="271.8" stroke="#111" stroke-width="1.2"/>
<text x="262.50" y="282.20" font-size="13.5" text-anchor="middle" fill="#111" >4</text>
<line x1="285.5" y1="269" x2="285.5" y2="271.8" stroke="#111" stroke-width="1.2"/>
<text x="285.50" y="282.20" font-size="13.5" text-anchor="middle" fill="#111" >5</text>
<line x1="308.5" y1="269" x2="308.5" y2="271.8" stroke="#111" stroke-width="1.2"/>
<text x="308.50" y="282.20" font-size="13.5" text-anchor="middle" fill="#111" >6</text>
<line x1="331.5" y1="269" x2="331.5" y2="271.8" stroke="#111" stroke-width="1.2"/>
<text x="331.50" y="282.20" font-size="13.5" text-anchor="middle" fill="#111" >7</text>
<text x="0.00" y="0.00" font-size="13" text-anchor="middle" fill="#111" transform="translate(176.5,223.6) rotate(-90)">% of Total</text>
<text x="211.00" y="301.60" font-size="13.3" text-anchor="start" fill="#111" textLength="103" lengthAdjust="spacingAndGlyphs" ><tspan font-style="italic">Klf2</tspan>:GFP FACS Bin</text>
<line x1="231.2" y1="164.7" x2="240.5" y2="164.7" stroke="#333" stroke-width="1" stroke-dasharray="1.2,1.6"/>
<line x1="231.5" y1="175.7" x2="241" y2="175.7" stroke="#e01818" stroke-width="1.4"/>
<line x1="231.5" y1="182.4" x2="241" y2="182.4" stroke="#1a2ee8" stroke-width="1.4"/>
<line x1="231.5" y1="189.3" x2="241" y2="189.3" stroke="#66ee33" stroke-width="1.4"/>
<text x="243.50" y="166.00" font-size="7.7" text-anchor="start" fill="#111" textLength="48.4" lengthAdjust="spacingAndGlyphs" >Normalized Ctl</text>
<text x="243.50" y="175.00" font-size="7.7" text-anchor="start" fill="#111" textLength="91.3" lengthAdjust="spacingAndGlyphs" >sgMap2k5_A Weight = 0.69</text>
<text x="243.50" y="183.80" font-size="7.7" text-anchor="start" fill="#111" textLength="91.3" lengthAdjust="spacingAndGlyphs" >sgMap2k5_B Weight = 0.21</text>
<text x="243.50" y="192.40" font-size="7.7" text-anchor="start" fill="#111" textLength="91.3" lengthAdjust="spacingAndGlyphs" >sgMap2k5_C Weight = 0.10</text>
<text x="355.30" y="145.30" font-size="27.5" text-anchor="start" fill="#111" >e</text>
<line x1="406.4" y1="136.3" x2="406.4" y2="297.0" stroke="#222" stroke-width="1.3"/>
<line x1="405.79999999999995" y1="297.0" x2="517" y2="297.0" stroke="#333" stroke-width="1.3"/>
<line x1="461.8" y1="297.0" x2="461.8" y2="299.5" stroke="#222" stroke-width="1.1"/>
<line x1="409" y1="136.3" x2="520" y2="136.3" stroke="#333" stroke-width="1" stroke-dasharray="1,1.5"/>
<line x1="403.4" y1="136.30" x2="406.4" y2="136.30" stroke="#222" stroke-width="1.1"/>
<text x="400.20" y="142.90" font-size="12.5" text-anchor="end" fill="#111" >0</text>
<line x1="404.9" y1="154.16" x2="406.4" y2="154.16" stroke="#222" stroke-width="1.1"/>
<line x1="404.9" y1="172.02" x2="406.4" y2="172.02" stroke="#222" stroke-width="1.1"/>
<line x1="403.4" y1="189.88" x2="406.4" y2="189.88" stroke="#222" stroke-width="1.1"/>
<text x="400.20" y="194.78" font-size="12.5" text-anchor="end" fill="#111" >-3</text>
<line x1="404.9" y1="207.74" x2="406.4" y2="207.74" stroke="#222" stroke-width="1.1"/>
<line x1="404.9" y1="225.60" x2="406.4" y2="225.60" stroke="#222" stroke-width="1.1"/>
<line x1="403.4" y1="243.46" x2="406.4" y2="243.46" stroke="#222" stroke-width="1.1"/>
<text x="400.20" y="247.76" font-size="12.5" text-anchor="end" fill="#111" >-6</text>
<line x1="404.9" y1="261.32" x2="406.4" y2="261.32" stroke="#222" stroke-width="1.1"/>
<line x1="404.9" y1="279.18" x2="406.4" y2="279.18" stroke="#222" stroke-width="1.1"/>
<line x1="403.4" y1="297.04" x2="406.4" y2="297.04" stroke="#222" stroke-width="1.1"/>
<text x="400.20" y="301.34" font-size="12.5" text-anchor="end" fill="#111" >-9</text>
<text x="0.00" y="0.00" font-size="11" text-anchor="middle" fill="#111" textLength="49" lengthAdjust="spacingAndGlyphs" transform="translate(367.2,216) rotate(-90)"><tspan font-style="italic">Klf2</tspan>:GFP</text>
<text x="0.00" y="0.00" font-size="11" text-anchor="middle" fill="#111" textLength="114" lengthAdjust="spacingAndGlyphs" transform="translate(380.7,216) rotate(-90)">loss-of-function score</text>
<path d="M452,138.4 Q462,136.8 472,138.4 L472,139.4 L452,139.4 Z" fill="#c8c8c8"/>
<rect x="446" y="141.0" width="31.5" height="1.2" fill="#cacaca"/>
<path d="M434.4,142.8 L489.9,142.8 L489.9,200.6 L434.4,200.6 Z" fill="#cfcfcf"/>
<rect x="434.4" y="142.8" width="2.4" height="1.2" fill="#fff"/>
<rect x="487.5" y="142.8" width="2.4" height="1.2" fill="#fff"/>
<rect x="434.4" y="145.1" width="55.5" height="0.7" fill="#bdbdbd"/>
<rect x="434.4" y="148.5" width="55.5" height="0.7" fill="#e0e0e0"/>
<rect x="434.4" y="150.8" width="55.5" height="1.2" fill="#e0e0e0"/>
<rect x="434.4" y="153.1" width="55.5" height="0.7" fill="#e0e0e0"/>
<rect x="434.4" y="154.8" width="55.5" height="1.2" fill="#bdbdbd"/>
<rect x="434.4" y="157.1" width="55.5" height="1.2" fill="#bdbdbd"/>
<rect x="434.4" y="158.5" width="2.1" height="1.2" fill="#fff"/>
<rect x="487.8" y="158.5" width="2.1" height="1.2" fill="#fff"/>
<rect x="434.4" y="162.2" width="55.5" height="1.0" fill="#e0e0e0"/>
<rect x="434.4" y="164.5" width="55.5" height="1.2" fill="#e0e0e0"/>
<rect x="434.4" y="168.8" width="3.5" height="0.7" fill="#fff"/>
<rect x="486.4" y="168.8" width="3.5" height="0.7" fill="#fff"/>
<rect x="434.4" y="172.8" width="55.5" height="1.0" fill="#e0e0e0"/>
<rect x="434.4" y="174.8" width="55.5" height="1.0" fill="#e0e0e0"/>
<rect x="434.4" y="179.6" width="55.5" height="1.0" fill="#bdbdbd"/>
<rect x="434.4" y="181.0" width="55.5" height="0.7" fill="#bdbdbd"/>
<rect x="434.4" y="183.0" width="55.5" height="0.7" fill="#e0e0e0"/>
<rect x="434.4" y="186.7" width="55.5" height="0.7" fill="#e0e0e0"/>
<rect x="434.4" y="191.0" width="55.5" height="1.0" fill="#e0e0e0"/>
<rect x="434.4" y="192.4" width="4.3" height="1.2" fill="#fff"/>
<rect x="485.6" y="192.4" width="4.3" height="1.2" fill="#fff"/>
<rect x="434.4" y="194.7" width="55.5" height="1.0" fill="#bdbdbd"/>
<rect x="434.4" y="196.7" width="55.5" height="0.7" fill="#e0e0e0"/>
<rect x="434.4" y="198.7" width="3.8" height="0.7" fill="#fff"/>
<rect x="486.1" y="198.7" width="3.8" height="0.7" fill="#fff"/>
<rect x="441" y="201.5" width="42.2" height="1.4" fill="#4a5ad8"/>
<g fill="#5564dc">
<rect x="441.0" y="201.4" width="4.6" height="1.1"/>
<rect x="446.1" y="201.4" width="6.8" height="1.1"/>
<rect x="453.4" y="201.4" width="2.9" height="1.1"/>
<rect x="456.8" y="201.4" width="2.6" height="1.1"/>
<rect x="459.3" y="201.4" width="3.2" height="1.1"/>
<rect x="463.4" y="201.4" width="3.3" height="1.1"/>
<rect x="467.1" y="201.4" width="5.2" height="1.1"/>
<rect x="473.1" y="201.4" width="2.7" height="1.1"/>
<rect x="475.8" y="201.4" width="2.7" height="1.1"/>
<rect x="478.5" y="201.4" width="2.8" height="1.1"/>
<rect x="481.3" y="201.4" width="1.7" height="1.1"/>
<rect x="445.5" y="202.8" width="6.4" height="1.1"/>
<rect x="451.9" y="202.8" width="3.5" height="1.1"/>
<rect x="455.5" y="202.8" width="4.5" height="1.1"/>
<rect x="460.8" y="202.8" width="5.2" height="1.1"/>
<rect x="466.0" y="202.8" width="5.4" height="1.1"/>
<rect x="472.2" y="202.8" width="6.1" height="1.1"/>
<rect x="445.0" y="204.2" width="2.1" height="1.1"/>
<rect x="447.6" y="204.2" width="4.9" height="1.1"/>
<rect x="452.9" y="204.2" width="2.3" height="1.1"/>
<rect x="456.0" y="204.2" width="3.9" height="1.1"/>
<rect x="459.9" y="204.2" width="6.3" height="1.1"/>
<rect x="466.2" y="204.2" width="2.6" height="1.1"/>
<rect x="468.8" y="204.2" width="6.8" height="1.1"/>
<rect x="476.1" y="204.2" width="2.3" height="1.1"/>
<rect x="478.4" y="204.2" width="0.6" height="1.1"/>
<rect x="448.0" y="205.6" width="5.7" height="1.1"/>
<rect x="453.7" y="205.6" width="3.3" height="1.1"/>
<rect x="457.5" y="205.6" width="6.6" height="1.1"/>
<rect x="464.6" y="205.6" width="2.9" height="1.1"/>
<rect x="467.4" y="205.6" width="6.5" height="1.1"/>
<rect x="474.5" y="205.6" width="1.5" height="1.1"/>
<rect x="446.5" y="207.0" width="5.8" height="1.1"/>
<rect x="452.8" y="207.0" width="2.1" height="1.1"/>
<rect x="455.4" y="207.0" width="4.4" height="1.1"/>
<rect x="459.7" y="207.0" width="5.6" height="1.1"/>
<rect x="465.9" y="207.0" width="3.3" height="1.1"/>
<rect x="470.0" y="207.0" width="2.1" height="1.1"/>
<rect x="472.1" y="207.0" width="4.0" height="1.1"/>
<rect x="476.9" y="207.0" width="0.6" height="1.1"/>
<rect x="451.0" y="208.4" width="6.8" height="1.1"/>
<rect x="457.8" y="208.4" width="6.5" height="1.1"/>
<rect x="464.3" y="208.4" width="6.2" height="1.1"/>
<rect x="471.1" y="208.4" width="1.9" height="1.1"/>
<rect x="451.5" y="209.8" width="6.1" height="1.1"/>
<rect x="457.6" y="209.8" width="2.8" height="1.1"/>
<rect x="461.2" y="209.8" width="2.5" height="1.1"/>
<rect x="464.1" y="209.8" width="6.2" height="1.1"/>
<rect x="471.1" y="209.8" width="1.4" height="1.1"/>
<rect x="453.5" y="211.2" width="4.7" height="1.1"/>
<rect x="458.2" y="211.2" width="3.1" height="1.1"/>
<rect x="461.8" y="211.2" width="4.9" height="1.1"/>
<rect x="467.2" y="211.2" width="2.2" height="1.1"/>
<rect x="470.3" y="211.2" width="0.2" height="1.1"/>
<rect x="452.5" y="212.6" width="3.1" height="1.1"/>
<rect x="456.4" y="212.6" width="4.6" height="1.1"/>
<rect x="461.8" y="212.6" width="2.4" height="1.1"/>
<rect x="465.0" y="212.6" width="5.8" height="1.1"/>
<rect x="470.7" y="212.6" width="0.8" height="1.1"/>
<rect x="454.5" y="214.0" width="6.8" height="1.1"/>
<rect x="461.3" y="214.0" width="6.8" height="1.1"/>
<rect x="469.0" y="214.0" width="0.5" height="1.1"/>
<rect x="453.8" y="215.4" width="6.8" height="1.1"/>
<rect x="460.6" y="215.4" width="6.6" height="1.1"/>
<rect x="467.3" y="215.4" width="2.9" height="1.1"/>
<rect x="455.2" y="216.8" width="2.9" height="1.1"/>
<rect x="458.1" y="216.8" width="3.5" height="1.1"/>
<rect x="462.1" y="216.8" width="4.2" height="1.1"/>
<rect x="466.3" y="216.8" width="2.5" height="1.1"/>
<rect x="454.2" y="218.2" width="3.0" height="1.1"/>
<rect x="457.2" y="218.2" width="4.2" height="1.1"/>
<rect x="462.2" y="218.2" width="6.3" height="1.1"/>
<rect x="468.5" y="218.2" width="1.3" height="1.1"/>
<rect x="455.5" y="219.6" width="4.3" height="1.1"/>
<rect x="460.3" y="219.6" width="3.3" height="1.1"/>
<rect x="463.6" y="219.6" width="4.9" height="1.1"/>
<rect x="456.5" y="221.0" width="3.7" height="1.1"/>
<rect x="460.7" y="221.0" width="3.1" height="1.1"/>
<rect x="464.2" y="221.0" width="2.5" height="1.1"/>
<rect x="466.7" y="221.0" width="0.8" height="1.1"/>
<rect x="456.2" y="222.4" width="5.6" height="1.1"/>
<rect x="462.3" y="222.4" width="5.1" height="1.1"/>
<rect x="467.3" y="222.4" width="0.5" height="1.1"/>
<rect x="457.5" y="223.8" width="4.3" height="1.1"/>
<rect x="461.8" y="223.8" width="4.7" height="1.1"/>
<rect x="458.0" y="225.4" width="6.3" height="1.1"/>
<rect x="464.3" y="225.4" width="1.7" height="1.1"/>
<rect x="458.5" y="226.8" width="5.7" height="1.1"/>
<rect x="464.2" y="226.8" width="1.3" height="1.1"/>
<rect x="458.0" y="228.2" width="3.3" height="1.1"/>
<rect x="461.8" y="228.2" width="4.2" height="1.1"/>
<rect x="459.0" y="229.6" width="4.0" height="1.1"/>
<rect x="463.0" y="229.6" width="2.0" height="1.1"/>
<rect x="458.8" y="231.0" width="2.4" height="1.1"/>
<rect x="461.2" y="231.0" width="4.0" height="1.1"/>
<rect x="459.8" y="232.4" width="3.6" height="1.1"/>
<rect x="463.4" y="232.4" width="0.8" height="1.1"/>
<rect x="460.5" y="233.8" width="3.0" height="1.1"/>
</g>
<rect x="461.4" y="237" width="1.3" height="1.1" fill="#6a78e0"/>
<rect x="461.4" y="240" width="1.3" height="1.1" fill="#6a78e0"/>
<rect x="461.4" y="244" width="1.3" height="1.1" fill="#6a78e0"/>
<rect x="461.4" y="249" width="1.3" height="1.1" fill="#6a78e0"/>
<rect x="461.4" y="255" width="1.3" height="1.1" fill="#6a78e0"/>
<rect x="461.4" y="262" width="1.3" height="1.1" fill="#6a78e0"/>
<rect x="461.4" y="266" width="1.3" height="1.1" fill="#6a78e0"/>
<rect x="461.4" y="270" width="1.3" height="1.1" fill="#6a78e0"/>
<rect x="461.4" y="274" width="1.3" height="1.1" fill="#6a78e0"/>
<rect x="461.4" y="278" width="1.3" height="1.1" fill="#6a78e0"/>
<circle cx="462" cy="225.8" r="1.5" fill="#dd1111"/>
<circle cx="461.2" cy="241.5" r="1.5" fill="#dd1111"/>
<circle cx="462" cy="247" r="1.5" fill="#dd1111"/>
<text x="474.20" y="228.00" font-size="8.2" text-anchor="start" fill="#111" textLength="45.6" lengthAdjust="spacingAndGlyphs" ><tspan font-style="italic">p300</tspan>, 0.822%</text>
<text x="472.30" y="243.90" font-size="8.2" text-anchor="start" fill="#111" textLength="44" lengthAdjust="spacingAndGlyphs" ><tspan font-style="italic">Erk5</tspan>, 0.162%</text>
<text x="472.30" y="253.10" font-size="8.2" text-anchor="start" fill="#111" textLength="47.5" lengthAdjust="spacingAndGlyphs" ><tspan font-style="italic">Mek5</tspan>, 0.054%</text>
<text x="0.80" y="327.00" font-size="27" text-anchor="start" fill="#111" >f</text>
<text x="9.75" y="338.80" font-size="8.5" text-anchor="start" fill="#111" textLength="116.6" lengthAdjust="spacingAndGlyphs" >Response to Laminar Shear Stress</text>
<rect x="7.05" y="343.1" width="165.64999999999998" height="44.1" fill="#fff"/>
<line x1="43.2" y1="343.1" x2="43.2" y2="372.1" stroke="#eeeeee" stroke-width="0.8"/>
<line x1="79.5" y1="343.1" x2="79.5" y2="372.1" stroke="#eeeeee" stroke-width="0.8"/>
<line x1="115.6" y1="343.1" x2="115.6" y2="372.1" stroke="#eeeeee" stroke-width="0.8"/>
<line x1="151.9" y1="343.1" x2="151.9" y2="372.1" stroke="#eeeeee" stroke-width="0.8"/>
<line x1="7.05" y1="348.3" x2="172.7" y2="348.3" stroke="#f2f2f2" stroke-width="0.8"/>
<line x1="7.05" y1="354.3" x2="172.7" y2="354.3" stroke="#f2f2f2" stroke-width="0.8"/>
<line x1="7.05" y1="360.1" x2="172.7" y2="360.1" stroke="#f2f2f2" stroke-width="0.8"/>
<line x1="7.05" y1="365.9" x2="172.7" y2="365.9" stroke="#f2f2f2" stroke-width="0.8"/>
<rect x="7.05" y="371.90000000000003" width="165.64999999999998" height="2.6" fill="#e9e9e9"/>
<line x1="19.4" y1="374.5" x2="19.4" y2="384.5" stroke="#6a6a6a" stroke-width="1"/>
<line x1="27.3" y1="374.5" x2="27.3" y2="384.5" stroke="#6a6a6a" stroke-width="1"/>
<line x1="40.9" y1="374.5" x2="40.9" y2="384.5" stroke="#6a6a6a" stroke-width="1"/>
<line x1="44.4" y1="374.5" x2="44.4" y2="384.5" stroke="#6a6a6a" stroke-width="1"/>
<line x1="58.7" y1="374.5" x2="58.7" y2="384.5" stroke="#6a6a6a" stroke-width="1"/>
<line x1="66.5" y1="374.5" x2="66.5" y2="384.5" stroke="#6a6a6a" stroke-width="1"/>
<line x1="96.3" y1="374.5" x2="96.3" y2="384.5" stroke="#6a6a6a" stroke-width="1"/>
<line x1="105.6" y1="374.5" x2="105.6" y2="384.5" stroke="#6a6a6a" stroke-width="1"/>
<line x1="115.2" y1="374.5" x2="115.2" y2="384.5" stroke="#6a6a6a" stroke-width="1"/>
<line x1="147.3" y1="374.5" x2="147.3" y2="384.5" stroke="#6a6a6a" stroke-width="1"/>
<rect x="7.65" y="384.5" width="9.69" height="2.5" fill="#c82030"/>
<rect x="17.04" y="384.5" width="28.46" height="2.5" fill="#d03848"/>
<rect x="45.20" y="384.5" width="23.77" height="2.5" fill="#d86070"/>
<rect x="68.67" y="384.5" width="17.51" height="2.5" fill="#e089a0"/>
<rect x="85.88" y="384.5" width="9.69" height="2.5" fill="#e6b0d0"/>
<rect x="95.26" y="384.5" width="19.07" height="2.5" fill="#c8c4f0"/>
<rect x="114.04" y="384.5" width="17.51" height="2.5" fill="#7474e0"/>
<rect x="131.25" y="384.5" width="23.77" height="2.5" fill="#3434c8"/>
<rect x="154.71" y="384.5" width="9.69" height="2.5" fill="#0000a8"/>
<polyline points="8.0,372.0 8.0,350.3 19.4,355.0 19.6,349.1 27.3,352.1 27.5,346.8 40.9,351.5 41.2,347.2 44.2,348.4 44.5,344.7 58.5,350.2 58.8,346.5 66.2,349.3 66.5,345.8 96.1,357.0 96.4,355.2 105.4,359.0 105.7,357.2 115.0,361.1 115.3,358.7 147.1,370.6 147.4,366.3 164.4,373.3" fill="none" stroke="#7ee23c" stroke-width="1.2"/>
<rect x="7.05" y="343.1" width="165.64999999999998" height="44.1" fill="none" stroke="#5a5a5a" stroke-width="1.1"/>
<text x="167.10" y="351.00" font-size="8.2" text-anchor="end" fill="#111" textLength="42.2" lengthAdjust="spacingAndGlyphs" >FDR = 0.052</text>
<text x="182.60" y="338.80" font-size="8.5" text-anchor="start" fill="#111" textLength="34.0" lengthAdjust="spacingAndGlyphs" >Mitophagy</text>
<rect x="179.9" y="343.1" width="165.4" height="44.1" fill="#fff"/>
<line x1="216.1" y1="343.1" x2="216.1" y2="372.1" stroke="#eeeeee" stroke-width="0.8"/>
<line x1="252.3" y1="343.1" x2="252.3" y2="372.1" stroke="#eeeeee" stroke-width="0.8"/>
<line x1="288.5" y1="343.1" x2="288.5" y2="372.1" stroke="#eeeeee" stroke-width="0.8"/>
<line x1="324.7" y1="343.1" x2="324.7" y2="372.1" stroke="#eeeeee" stroke-width="0.8"/>
<line x1="179.9" y1="348.3" x2="345.3" y2="348.3" stroke="#f2f2f2" stroke-width="0.8"/>
<line x1="179.9" y1="354.3" x2="345.3" y2="354.3" stroke="#f2f2f2" stroke-width="0.8"/>
<line x1="179.9" y1="360.1" x2="345.3" y2="360.1" stroke="#f2f2f2" stroke-width="0.8"/>
<line x1="179.9" y1="365.9" x2="345.3" y2="365.9" stroke="#f2f2f2" stroke-width="0.8"/>
<rect x="179.9" y="371.90000000000003" width="165.4" height="2.6" fill="#e9e9e9"/>
<line x1="181.2" y1="374.5" x2="181.2" y2="384.5" stroke="#6a6a6a" stroke-width="1"/>
<line x1="187.3" y1="374.5" x2="187.3" y2="384.5" stroke="#6a6a6a" stroke-width="1"/>
<line x1="192.8" y1="374.5" x2="192.8" y2="384.5" stroke="#6a6a6a" stroke-width="1"/>
<line x1="193.7" y1="374.5" x2="193.7" y2="384.5" stroke="#6a6a6a" stroke-width="1"/>
<line x1="198" y1="374.5" x2="198" y2="384.5" stroke="#6a6a6a" stroke-width="1"/>
<line x1="221.6" y1="374.5" x2="221.6" y2="384.5" stroke="#6a6a6a" stroke-width="1"/>
<line x1="234.9" y1="374.5" x2="234.9" y2="384.5" stroke="#6a6a6a" stroke-width="1"/>
<line x1="242.3" y1="374.5" x2="242.3" y2="384.5" stroke="#6a6a6a" stroke-width="1"/>
<line x1="245.6" y1="374.5" x2="245.6" y2="384.5" stroke="#6a6a6a" stroke-width="1"/>
<line x1="253.4" y1="374.5" x2="253.4" y2="384.5" stroke="#6a6a6a" stroke-width="1"/>
<line x1="275.2" y1="374.5" x2="275.2" y2="384.5" stroke="#6a6a6a" stroke-width="1"/>
<line x1="279" y1="374.5" x2="279" y2="384.5" stroke="#6a6a6a" stroke-width="1"/>
<line x1="285.4" y1="374.5" x2="285.4" y2="384.5" stroke="#6a6a6a" stroke-width="1"/>
<line x1="290.3" y1="374.5" x2="290.3" y2="384.5" stroke="#6a6a6a" stroke-width="1"/>
<line x1="298.4" y1="374.5" x2="298.4" y2="384.5" stroke="#6a6a6a" stroke-width="1"/>
<line x1="301" y1="374.5" x2="301" y2="384.5" stroke="#6a6a6a" stroke-width="1"/>
<line x1="304.6" y1="374.5" x2="304.6" y2="384.5" stroke="#6a6a6a" stroke-width="1"/>
<line x1="315.7" y1="374.5" x2="315.7" y2="384.5" stroke="#6a6a6a" stroke-width="1"/>
<rect x="180.50" y="384.5" width="9.67" height="2.5" fill="#c82030"/>
<rect x="189.87" y="384.5" width="28.42" height="2.5" fill="#d03848"/>
<rect x="217.99" y="384.5" width="23.73" height="2.5" fill="#d86070"/>
<rect x="241.42" y="384.5" width="17.48" height="2.5" fill="#e089a0"/>
<rect x="258.60" y="384.5" width="9.67" height="2.5" fill="#e6b0d0"/>
<rect x="267.97" y="384.5" width="19.04" height="2.5" fill="#c8c4f0"/>
<rect x="286.72" y="384.5" width="17.48" height="2.5" fill="#7474e0"/>
<rect x="303.90" y="384.5" width="23.73" height="2.5" fill="#3434c8"/>
<rect x="327.33" y="384.5" width="9.67" height="2.5" fill="#0000a8"/>
<polyline points="180.7,372.2 180.7,363.5 182.1,359.2 187.1,361.0 187.5,356.6 192.5,358.4 193.0,351.4 195.1,347.1 198.0,347.5 198.5,345.0 221.4,353.7 221.8,351.4 234.7,356.6 235.1,354.4 241.8,357.1 242.2,355.4 245.4,356.6 245.8,354.4 252.9,357.5 253.3,356.1 274.7,364.4 275.1,363.0 279.2,364.2 279.5,362.8 285.1,366.1 285.5,364.3 290.3,365.9 290.6,364.2 297.4,367.0 297.8,365.3 300.8,366.3 301.2,364.3 304.5,365.5 304.9,363.2 315.4,367.4 315.7,364.9 337.0,372.7" fill="none" stroke="#7ee23c" stroke-width="1.2"/>
<rect x="179.9" y="343.1" width="165.4" height="44.1" fill="none" stroke="#5a5a5a" stroke-width="1.1"/>
<text x="339.70" y="351.00" font-size="8.2" text-anchor="end" fill="#111" textLength="42.2" lengthAdjust="spacingAndGlyphs" >FDR = 0.026</text>
<text x="355.80" y="338.80" font-size="8.5" text-anchor="start" fill="#111" textLength="153" lengthAdjust="spacingAndGlyphs" >Reg. of Ox Stress-induced Apoptotic Signaling</text>
<rect x="353.1" y="343.1" width="165.10000000000002" height="44.1" fill="#fff"/>
<line x1="389.3" y1="343.1" x2="389.3" y2="372.1" stroke="#eeeeee" stroke-width="0.8"/>
<line x1="425.5" y1="343.1" x2="425.5" y2="372.1" stroke="#eeeeee" stroke-width="0.8"/>
<line x1="461.7" y1="343.1" x2="461.7" y2="372.1" stroke="#eeeeee" stroke-width="0.8"/>
<line x1="497.9" y1="343.1" x2="497.9" y2="372.1" stroke="#eeeeee" stroke-width="0.8"/>
<line x1="353.1" y1="348.3" x2="518.2" y2="348.3" stroke="#f2f2f2" stroke-width="0.8"/>
<line x1="353.1" y1="354.3" x2="518.2" y2="354.3" stroke="#f2f2f2" stroke-width="0.8"/>
<line x1="353.1" y1="360.1" x2="518.2" y2="360.1" stroke="#f2f2f2" stroke-width="0.8"/>
<line x1="353.1" y1="365.9" x2="518.2" y2="365.9" stroke="#f2f2f2" stroke-width="0.8"/>
<rect x="353.1" y="371.90000000000003" width="165.10000000000002" height="2.6" fill="#e9e9e9"/>
<line x1="354.5" y1="374.5" x2="354.5" y2="384.5" stroke="#6a6a6a" stroke-width="1"/>
<line x1="357.1" y1="374.5" x2="357.1" y2="384.5" stroke="#6a6a6a" stroke-width="1"/>
<line x1="359.7" y1="374.5" x2="359.7" y2="384.5" stroke="#6a6a6a" stroke-width="1"/>
<line x1="366.6" y1="374.5" x2="366.6" y2="384.5" stroke="#6a6a6a" stroke-width="1"/>
<line x1="372.7" y1="374.5" x2="372.7" y2="384.5" stroke="#6a6a6a" stroke-width="1"/>
<line x1="373.5" y1="374.5" x2="373.5" y2="384.5" stroke="#6a6a6a" stroke-width="1"/>
<line x1="376.1" y1="374.5" x2="376.1" y2="384.5" stroke="#6a6a6a" stroke-width="1"/>
<line x1="379.6" y1="374.5" x2="379.6" y2="384.5" stroke="#6a6a6a" stroke-width="1"/>
<line x1="382.2" y1="374.5" x2="382.2" y2="384.5" stroke="#6a6a6a" stroke-width="1"/>
<line x1="387.4" y1="374.5" x2="387.4" y2="384.5" stroke="#6a6a6a" stroke-width="1"/>
<line x1="392.6" y1="374.5" x2="392.6" y2="384.5" stroke="#6a6a6a" stroke-width="1"/>
<line x1="396.9" y1="374.5" x2="396.9" y2="384.5" stroke="#6a6a6a" stroke-width="1"/>
<line x1="397.8" y1="374.5" x2="397.8" y2="384.5" stroke="#6a6a6a" stroke-width="1"/>
<line x1="398.6" y1="374.5" x2="398.6" y2="384.5" stroke="#6a6a6a" stroke-width="1"/>
<line x1="436.1" y1="374.5" x2="436.1" y2="384.5" stroke="#6a6a6a" stroke-width="1"/>
<line x1="459.1" y1="374.5" x2="459.1" y2="384.5" stroke="#6a6a6a" stroke-width="1"/>
<line x1="469.8" y1="374.5" x2="469.8" y2="384.5" stroke="#6a6a6a" stroke-width="1"/>
<line x1="493.7" y1="374.5" x2="493.7" y2="384.5" stroke="#6a6a6a" stroke-width="1"/>
<line x1="498.3" y1="374.5" x2="498.3" y2="384.5" stroke="#6a6a6a" stroke-width="1"/>
<line x1="508.7" y1="374.5" x2="508.7" y2="384.5" stroke="#6a6a6a" stroke-width="1"/>
<rect x="353.70" y="384.5" width="9.65" height="2.5" fill="#c82030"/>
<rect x="363.05" y="384.5" width="28.36" height="2.5" fill="#d03848"/>
<rect x="391.12" y="384.5" width="23.69" height="2.5" fill="#d86070"/>
<rect x="414.50" y="384.5" width="17.45" height="2.5" fill="#e089a0"/>
<rect x="431.65" y="384.5" width="9.65" height="2.5" fill="#e6b0d0"/>
<rect x="441.00" y="384.5" width="19.01" height="2.5" fill="#c8c4f0"/>
<rect x="459.71" y="384.5" width="17.45" height="2.5" fill="#7474e0"/>
<rect x="476.86" y="384.5" width="23.68" height="2.5" fill="#3434c8"/>
<rect x="500.25" y="384.5" width="9.65" height="2.5" fill="#0000a8"/>
<polyline points="353.7,367.0 353.7,358.4 356.2,357.1 357.5,357.5 359.7,354.0 366.6,356.6 368.4,353.2 372.3,355.4 373.5,351.4 376.5,352.3 378.7,348.8 380.5,349.5 382.2,347.1 387.2,348.5 387.6,346.6 392.6,348.0 393.0,346.5 396.9,348.0 399.5,345.4 435.2,357.1 458.5,365.3 460.3,363.5 468.4,367.0 470.1,364.4 493.1,372.2 494.0,370.5 497.5,372.2 498.9,367.5 508.2,370.5 509.2,367.0" fill="none" stroke="#7ee23c" stroke-width="1.2"/>
<rect x="353.1" y="343.1" width="165.10000000000002" height="44.1" fill="none" stroke="#5a5a5a" stroke-width="1.1"/>
<text x="512.60" y="351.00" font-size="8.2" text-anchor="end" fill="#111" textLength="42.2" lengthAdjust="spacingAndGlyphs" >FDR = 0.035</text>
<text x="9.75" y="404.10" font-size="8.5" text-anchor="start" fill="#111" textLength="71.6" lengthAdjust="spacingAndGlyphs" >PB1 Domain Proteins</text>
<rect x="7.05" y="408.4" width="164.74999999999997" height="44.1" fill="#fff"/>
<line x1="43.2" y1="408.4" x2="43.2" y2="437.4" stroke="#eeeeee" stroke-width="0.8"/>
<line x1="79.5" y1="408.4" x2="79.5" y2="437.4" stroke="#eeeeee" stroke-width="0.8"/>
<line x1="115.6" y1="408.4" x2="115.6" y2="437.4" stroke="#eeeeee" stroke-width="0.8"/>
<line x1="151.9" y1="408.4" x2="151.9" y2="437.4" stroke="#eeeeee" stroke-width="0.8"/>
<line x1="7.05" y1="413.6" x2="171.79999999999998" y2="413.6" stroke="#f2f2f2" stroke-width="0.8"/>
<line x1="7.05" y1="419.6" x2="171.79999999999998" y2="419.6" stroke="#f2f2f2" stroke-width="0.8"/>
<line x1="7.05" y1="425.4" x2="171.79999999999998" y2="425.4" stroke="#f2f2f2" stroke-width="0.8"/>
<line x1="7.05" y1="431.2" x2="171.79999999999998" y2="431.2" stroke="#f2f2f2" stroke-width="0.8"/>
<rect x="7.05" y="437.2" width="164.74999999999997" height="2.6" fill="#e9e9e9"/>
<line x1="10.7" y1="439.79999999999995" x2="10.7" y2="449.79999999999995" stroke="#6a6a6a" stroke-width="1"/>
<line x1="20.4" y1="439.79999999999995" x2="20.4" y2="449.79999999999995" stroke="#6a6a6a" stroke-width="1"/>
<line x1="27.2" y1="439.79999999999995" x2="27.2" y2="449.79999999999995" stroke="#6a6a6a" stroke-width="1"/>
<line x1="43.3" y1="439.79999999999995" x2="43.3" y2="449.79999999999995" stroke="#6a6a6a" stroke-width="1"/>
<line x1="44.1" y1="439.79999999999995" x2="44.1" y2="449.79999999999995" stroke="#6a6a6a" stroke-width="1"/>
<line x1="57.6" y1="439.79999999999995" x2="57.6" y2="449.79999999999995" stroke="#6a6a6a" stroke-width="1"/>
<line x1="58.3" y1="439.79999999999995" x2="58.3" y2="449.79999999999995" stroke="#6a6a6a" stroke-width="1"/>
<line x1="103.8" y1="439.79999999999995" x2="103.8" y2="449.79999999999995" stroke="#6a6a6a" stroke-width="1"/>
<line x1="118.7" y1="439.79999999999995" x2="118.7" y2="449.79999999999995" stroke="#6a6a6a" stroke-width="1"/>
<rect x="7.65" y="449.79999999999995" width="9.63" height="2.5" fill="#c82030"/>
<rect x="16.98" y="449.79999999999995" width="28.30" height="2.5" fill="#d03848"/>
<rect x="44.98" y="449.79999999999995" width="23.63" height="2.5" fill="#d86070"/>
<rect x="68.31" y="449.79999999999995" width="17.41" height="2.5" fill="#e089a0"/>
<rect x="85.42" y="449.79999999999995" width="9.63" height="2.5" fill="#e6b0d0"/>
<rect x="94.76" y="449.79999999999995" width="18.97" height="2.5" fill="#c8c4f0"/>
<rect x="113.42" y="449.79999999999995" width="17.41" height="2.5" fill="#7474e0"/>
<rect x="130.53" y="449.79999999999995" width="23.63" height="2.5" fill="#3434c8"/>
<rect x="153.87" y="449.79999999999995" width="9.63" height="2.5" fill="#0000a8"/>
<polyline points="8.2,437.5 8.6,433.7 9.5,432.8 10.7,427.6 11.2,423.3 19.9,425.9 20.8,421.2 26.8,424.1 27.3,419.0 42.9,425.0 43.6,420.7 44.6,415.1 57.1,419.8 58.0,414.6 58.8,410.3 103.8,425.8 104.3,420.9 118.3,425.9 118.8,420.9 163.3,437.6" fill="none" stroke="#7ee23c" stroke-width="1.2"/>
<rect x="7.05" y="408.4" width="164.74999999999997" height="44.1" fill="none" stroke="#5a5a5a" stroke-width="1.1"/>
<text x="166.20" y="417.20" font-size="8.2" text-anchor="end" fill="#111" textLength="42.2" lengthAdjust="spacingAndGlyphs" >FDR = 0.004</text>
<text x="182.60" y="404.10" font-size="8.5" text-anchor="start" fill="#111" textLength="136" lengthAdjust="spacingAndGlyphs" >Regulation of Mitochondrion Organization</text>
<rect x="179.9" y="408.4" width="164.50000000000003" height="44.1" fill="#fff"/>
<line x1="216.1" y1="408.4" x2="216.1" y2="437.4" stroke="#eeeeee" stroke-width="0.8"/>
<line x1="252.3" y1="408.4" x2="252.3" y2="437.4" stroke="#eeeeee" stroke-width="0.8"/>
<line x1="288.5" y1="408.4" x2="288.5" y2="437.4" stroke="#eeeeee" stroke-width="0.8"/>
<line x1="324.7" y1="408.4" x2="324.7" y2="437.4" stroke="#eeeeee" stroke-width="0.8"/>
<line x1="179.9" y1="413.6" x2="344.40000000000003" y2="413.6" stroke="#f2f2f2" stroke-width="0.8"/>
<line x1="179.9" y1="419.6" x2="344.40000000000003" y2="419.6" stroke="#f2f2f2" stroke-width="0.8"/>
<line x1="179.9" y1="425.4" x2="344.40000000000003" y2="425.4" stroke="#f2f2f2" stroke-width="0.8"/>
<line x1="179.9" y1="431.2" x2="344.40000000000003" y2="431.2" stroke="#f2f2f2" stroke-width="0.8"/>
<rect x="179.9" y="437.2" width="164.50000000000003" height="2.6" fill="#e9e9e9"/>
<line x1="181.1" y1="439.79999999999995" x2="181.1" y2="449.79999999999995" stroke="#aaa" stroke-width="0.8"/>
<line x1="183.6" y1="439.79999999999995" x2="183.6" y2="449.79999999999995" stroke="#444" stroke-width="0.8"/>
<line x1="185.4" y1="439.79999999999995" x2="185.4" y2="449.79999999999995" stroke="#666" stroke-width="1.3"/>
<line x1="186.3" y1="439.79999999999995" x2="186.3" y2="449.79999999999995" stroke="#bbb" stroke-width="0.8"/>
<line x1="189.1" y1="439.79999999999995" x2="189.1" y2="449.79999999999995" stroke="#444" stroke-width="1.3"/>
<line x1="190.3" y1="439.79999999999995" x2="190.3" y2="449.79999999999995" stroke="#888" stroke-width="0.8"/>
<line x1="191.5" y1="439.79999999999995" x2="191.5" y2="449.79999999999995" stroke="#888" stroke-width="1.3"/>
<line x1="192.4" y1="439.79999999999995" x2="192.4" y2="449.79999999999995" stroke="#666" stroke-width="0.8"/>
<line x1="201.7" y1="439.79999999999995" x2="201.7" y2="449.79999999999995" stroke="#222" stroke-width="1.0"/>
<line x1="203.3" y1="439.79999999999995" x2="203.3" y2="449.79999999999995" stroke="#999" stroke-width="0.8"/>
<line x1="205.0" y1="439.79999999999995" x2="205.0" y2="449.79999999999995" stroke="#888" stroke-width="1.3"/>
<line x1="205.9" y1="439.79999999999995" x2="205.9" y2="449.79999999999995" stroke="#444" stroke-width="0.8"/>
<line x1="206.8" y1="439.79999999999995" x2="206.8" y2="449.79999999999995" stroke="#bbb" stroke-width="1.3"/>
<line x1="207.7" y1="439.79999999999995" x2="207.7" y2="449.79999999999995" stroke="#222" stroke-width="1.3"/>
<line x1="209.8" y1="439.79999999999995" x2="209.8" y2="449.79999999999995" stroke="#999" stroke-width="1.0"/>
<line x1="214.0" y1="439.79999999999995" x2="214.0" y2="449.79999999999995" stroke="#222" stroke-width="1.0"/>
<line x1="217.2" y1="439.79999999999995" x2="217.2" y2="449.79999999999995" stroke="#888" stroke-width="1.3"/>
<line x1="218.1" y1="439.79999999999995" x2="218.1" y2="449.79999999999995" stroke="#aaa" stroke-width="1.0"/>
<line x1="219.3" y1="439.79999999999995" x2="219.3" y2="449.79999999999995" stroke="#222" stroke-width="1.3"/>
<line x1="220.2" y1="439.79999999999995" x2="220.2" y2="449.79999999999995" stroke="#bbb" stroke-width="1.3"/>
<line x1="222.9" y1="439.79999999999995" x2="222.9" y2="449.79999999999995" stroke="#999" stroke-width="0.8"/>
<line x1="229.6" y1="439.79999999999995" x2="229.6" y2="449.79999999999995" stroke="#444" stroke-width="1.3"/>
<line x1="232.1" y1="439.79999999999995" x2="232.1" y2="449.79999999999995" stroke="#aaa" stroke-width="1.0"/>
<line x1="233.0" y1="439.79999999999995" x2="233.0" y2="449.79999999999995" stroke="#999" stroke-width="0.8"/>
<line x1="234.6" y1="439.79999999999995" x2="234.6" y2="449.79999999999995" stroke="#222" stroke-width="1.3"/>
<line x1="235.5" y1="439.79999999999995" x2="235.5" y2="449.79999999999995" stroke="#888" stroke-width="1.3"/>
<line x1="238.6" y1="439.79999999999995" x2="238.6" y2="449.79999999999995" stroke="#444" stroke-width="0.8"/>
<line x1="239.5" y1="439.79999999999995" x2="239.5" y2="449.79999999999995" stroke="#444" stroke-width="0.8"/>
<line x1="240.4" y1="439.79999999999995" x2="240.4" y2="449.79999999999995" stroke="#bbb" stroke-width="0.8"/>
<line x1="242.0" y1="439.79999999999995" x2="242.0" y2="449.79999999999995" stroke="#bbb" stroke-width="1.3"/>
<line x1="244.8" y1="439.79999999999995" x2="244.8" y2="449.79999999999995" stroke="#999" stroke-width="1.3"/>
<line x1="245.7" y1="439.79999999999995" x2="245.7" y2="449.79999999999995" stroke="#999" stroke-width="1.3"/>
<line x1="246.6" y1="439.79999999999995" x2="246.6" y2="449.79999999999995" stroke="#888" stroke-width="0.8"/>
<line x1="254.3" y1="439.79999999999995" x2="254.3" y2="449.79999999999995" stroke="#444" stroke-width="1.3"/>
<line x1="255.2" y1="439.79999999999995" x2="255.2" y2="449.79999999999995" stroke="#222" stroke-width="1.0"/>
<line x1="256.1" y1="439.79999999999995" x2="256.1" y2="449.79999999999995" stroke="#888" stroke-width="0.8"/>
<line x1="259.0" y1="439.79999999999995" x2="259.0" y2="449.79999999999995" stroke="#666" stroke-width="0.8"/>
<line x1="260.6" y1="439.79999999999995" x2="260.6" y2="449.79999999999995" stroke="#444" stroke-width="1.3"/>
<line x1="261.8" y1="439.79999999999995" x2="261.8" y2="449.79999999999995" stroke="#222" stroke-width="1.3"/>
<line x1="267.8" y1="439.79999999999995" x2="267.8" y2="449.79999999999995" stroke="#666" stroke-width="1.0"/>
<line x1="278.4" y1="439.79999999999995" x2="278.4" y2="449.79999999999995" stroke="#aaa" stroke-width="1.0"/>
<line x1="280.1" y1="439.79999999999995" x2="280.1" y2="449.79999999999995" stroke="#bbb" stroke-width="1.3"/>
<line x1="282.3" y1="439.79999999999995" x2="282.3" y2="449.79999999999995" stroke="#666" stroke-width="0.8"/>
<line x1="285.4" y1="439.79999999999995" x2="285.4" y2="449.79999999999995" stroke="#aaa" stroke-width="1.3"/>
<line x1="287.0" y1="439.79999999999995" x2="287.0" y2="449.79999999999995" stroke="#bbb" stroke-width="0.8"/>
<line x1="288.6" y1="439.79999999999995" x2="288.6" y2="449.79999999999995" stroke="#aaa" stroke-width="0.8"/>
<line x1="299.7" y1="439.79999999999995" x2="299.7" y2="449.79999999999995" stroke="#bbb" stroke-width="0.8"/>
<line x1="306.1" y1="439.79999999999995" x2="306.1" y2="449.79999999999995" stroke="#444" stroke-width="0.8"/>
<line x1="308.6" y1="439.79999999999995" x2="308.6" y2="449.79999999999995" stroke="#444" stroke-width="1.3"/>
<line x1="311.0" y1="439.79999999999995" x2="311.0" y2="449.79999999999995" stroke="#888" stroke-width="0.8"/>
<line x1="311.9" y1="439.79999999999995" x2="311.9" y2="449.79999999999995" stroke="#222" stroke-width="1.3"/>
<line x1="313.1" y1="439.79999999999995" x2="313.1" y2="449.79999999999995" stroke="#444" stroke-width="0.8"/>
<line x1="314.7" y1="439.79999999999995" x2="314.7" y2="449.79999999999995" stroke="#666" stroke-width="1.3"/>
<line x1="317.1" y1="439.79999999999995" x2="317.1" y2="449.79999999999995" stroke="#999" stroke-width="0.8"/>
<line x1="318.0" y1="439.79999999999995" x2="318.0" y2="449.79999999999995" stroke="#888" stroke-width="1.0"/>
<line x1="319.6" y1="439.79999999999995" x2="319.6" y2="449.79999999999995" stroke="#444" stroke-width="1.3"/>
<line x1="321.2" y1="439.79999999999995" x2="321.2" y2="449.79999999999995" stroke="#bbb" stroke-width="0.8"/>
<line x1="323.9" y1="439.79999999999995" x2="323.9" y2="449.79999999999995" stroke="#aaa" stroke-width="1.0"/>
<line x1="325.1" y1="439.79999999999995" x2="325.1" y2="449.79999999999995" stroke="#666" stroke-width="1.0"/>
<line x1="326.7" y1="439.79999999999995" x2="326.7" y2="449.79999999999995" stroke="#666" stroke-width="1.0"/>
<line x1="328.3" y1="439.79999999999995" x2="328.3" y2="449.79999999999995" stroke="#222" stroke-width="1.3"/>
<line x1="331.4" y1="439.79999999999995" x2="331.4" y2="449.79999999999995" stroke="#bbb" stroke-width="0.8"/>
<line x1="332.6" y1="439.79999999999995" x2="332.6" y2="449.79999999999995" stroke="#666" stroke-width="1.3"/>
<line x1="334.2" y1="439.79999999999995" x2="334.2" y2="449.79999999999995" stroke="#bbb" stroke-width="1.3"/>
<line x1="335.1" y1="439.79999999999995" x2="335.1" y2="449.79999999999995" stroke="#888" stroke-width="0.8"/>
<rect x="180.50" y="449.79999999999995" width="9.62" height="2.5" fill="#c82030"/>
<rect x="189.82" y="449.79999999999995" width="28.25" height="2.5" fill="#d03848"/>
<rect x="217.77" y="449.79999999999995" width="23.60" height="2.5" fill="#d86070"/>
<rect x="241.07" y="449.79999999999995" width="17.38" height="2.5" fill="#e089a0"/>
<rect x="258.15" y="449.79999999999995" width="9.62" height="2.5" fill="#e6b0d0"/>
<rect x="267.47" y="449.79999999999995" width="18.94" height="2.5" fill="#c8c4f0"/>
<rect x="286.10" y="449.79999999999995" width="17.38" height="2.5" fill="#7474e0"/>
<rect x="303.19" y="449.79999999999995" width="23.59" height="2.5" fill="#3434c8"/>
<rect x="326.48" y="449.79999999999995" width="9.62" height="2.5" fill="#0000a8"/>
<polyline points="180.4,434.5 182.1,432.3 183.8,430.5 185.6,430.8 187.3,432.0 189.1,431.3 190.8,429.8 192.9,426.9 195.1,423.6 196.8,422.4 198.6,419.8 200.3,418.7 202.0,417.5 203.7,417.8 205.4,418.2 207.2,417.7 208.9,419.8 210.4,419.0 211.9,417.7 213.5,416.9 215.0,415.4 217.2,416.3 219.3,418.2 221.1,414.9 222.8,412.5 224.5,412.0 226.2,411.1 228.0,411.2 229.7,410.6 231.2,411.8 232.7,411.9 234.2,412.6 235.7,413.0 237.4,413.9 239.2,414.3 240.9,414.7 242.7,416.5 244.4,417.2 246.0,417.5 247.5,417.8 249.1,417.7 250.6,418.0 252.2,418.7 253.8,418.8 255.3,420.5 256.9,420.4 258.4,421.6 260.0,421.4 261.6,423.2 263.1,423.9 264.7,423.4 266.3,424.6 267.9,426.6 269.4,426.7 271.0,428.4 272.6,428.3 274.2,428.7 275.7,430.4 277.3,431.5 279.9,429.4 281.4,429.5 282.9,430.2 284.5,431.5 286.0,431.5 287.7,430.6 289.4,430.9 291.2,430.7 292.9,430.7 294.6,432.0 296.2,431.3 297.9,432.3 299.5,432.4 301.1,432.4 302.8,433.6 304.4,433.0 306.0,434.1 307.7,433.6 309.3,434.5 310.8,433.2 312.4,432.3 313.9,432.5 315.4,431.3 316.9,431.1 318.4,432.6 319.9,432.1 321.4,433.0 323.0,434.3 324.5,434.6 326.0,434.3 327.5,436.3 329.6,435.9 331.8,436.8 334.0,437.0 336.1,436.0" fill="none" stroke="#7ee23c" stroke-width="1.2"/>
<rect x="179.9" y="408.4" width="164.50000000000003" height="44.1" fill="none" stroke="#5a5a5a" stroke-width="1.1"/>
<text x="338.80" y="417.20" font-size="8.2" text-anchor="end" fill="#111" textLength="42.2" lengthAdjust="spacingAndGlyphs" >FDR = 0.043</text>
<text x="355.80" y="404.10" font-size="8.5" text-anchor="start" fill="#111" textLength="124.5" lengthAdjust="spacingAndGlyphs" >Cellular Response to Oxidative Stress</text>
<rect x="353.1" y="408.4" width="164.20000000000005" height="44.1" fill="#fff"/>
<line x1="389.3" y1="408.4" x2="389.3" y2="437.4" stroke="#eeeeee" stroke-width="0.8"/>
<line x1="425.5" y1="408.4" x2="425.5" y2="437.4" stroke="#eeeeee" stroke-width="0.8"/>
<line x1="461.7" y1="408.4" x2="461.7" y2="437.4" stroke="#eeeeee" stroke-width="0.8"/>
<line x1="497.9" y1="408.4" x2="497.9" y2="437.4" stroke="#eeeeee" stroke-width="0.8"/>
<line x1="353.1" y1="413.6" x2="517.3000000000001" y2="413.6" stroke="#f2f2f2" stroke-width="0.8"/>
<line x1="353.1" y1="419.6" x2="517.3000000000001" y2="419.6" stroke="#f2f2f2" stroke-width="0.8"/>
<line x1="353.1" y1="425.4" x2="517.3000000000001" y2="425.4" stroke="#f2f2f2" stroke-width="0.8"/>
<line x1="353.1" y1="431.2" x2="517.3000000000001" y2="431.2" stroke="#f2f2f2" stroke-width="0.8"/>
<rect x="353.1" y="437.2" width="164.20000000000005" height="2.6" fill="#e9e9e9"/>
<line x1="354.3" y1="439.79999999999995" x2="354.3" y2="449.79999999999995" stroke="#777" stroke-width="0.8"/>
<line x1="355.2" y1="439.79999999999995" x2="355.2" y2="449.79999999999995" stroke="#444" stroke-width="1.3"/>
<line x1="358.1" y1="439.79999999999995" x2="358.1" y2="449.79999999999995" stroke="#222" stroke-width="0.8"/>
<line x1="359.0" y1="439.79999999999995" x2="359.0" y2="449.79999999999995" stroke="#999" stroke-width="1.0"/>
<line x1="362.3" y1="439.79999999999995" x2="362.3" y2="449.79999999999995" stroke="#555" stroke-width="1.0"/>
<line x1="363.5" y1="439.79999999999995" x2="363.5" y2="449.79999999999995" stroke="#aaa" stroke-width="1.3"/>
<line x1="364.4" y1="439.79999999999995" x2="364.4" y2="449.79999999999995" stroke="#999" stroke-width="0.8"/>
<line x1="366.0" y1="439.79999999999995" x2="366.0" y2="449.79999999999995" stroke="#444" stroke-width="1.3"/>
<line x1="368.1" y1="439.79999999999995" x2="368.1" y2="449.79999999999995" stroke="#111" stroke-width="1.0"/>
<line x1="369.7" y1="439.79999999999995" x2="369.7" y2="449.79999999999995" stroke="#aaa" stroke-width="1.3"/>
<line x1="370.6" y1="439.79999999999995" x2="370.6" y2="449.79999999999995" stroke="#aaa" stroke-width="1.3"/>
<line x1="371.8" y1="439.79999999999995" x2="371.8" y2="449.79999999999995" stroke="#777" stroke-width="1.3"/>
<line x1="375.2" y1="439.79999999999995" x2="375.2" y2="449.79999999999995" stroke="#777" stroke-width="1.0"/>
<line x1="376.8" y1="439.79999999999995" x2="376.8" y2="449.79999999999995" stroke="#444" stroke-width="1.3"/>
<line x1="378.4" y1="439.79999999999995" x2="378.4" y2="449.79999999999995" stroke="#111" stroke-width="1.3"/>
<line x1="379.6" y1="439.79999999999995" x2="379.6" y2="449.79999999999995" stroke="#444" stroke-width="1.0"/>
<line x1="382.4" y1="439.79999999999995" x2="382.4" y2="449.79999999999995" stroke="#777" stroke-width="1.0"/>
<line x1="385.6" y1="439.79999999999995" x2="385.6" y2="449.79999999999995" stroke="#aaa" stroke-width="0.8"/>
<line x1="387.2" y1="439.79999999999995" x2="387.2" y2="449.79999999999995" stroke="#222" stroke-width="0.8"/>
<line x1="388.1" y1="439.79999999999995" x2="388.1" y2="449.79999999999995" stroke="#777" stroke-width="0.8"/>
<line x1="389.3" y1="439.79999999999995" x2="389.3" y2="449.79999999999995" stroke="#aaa" stroke-width="1.3"/>
<line x1="391.9" y1="439.79999999999995" x2="391.9" y2="449.79999999999995" stroke="#999" stroke-width="0.8"/>
<line x1="398.3" y1="439.79999999999995" x2="398.3" y2="449.79999999999995" stroke="#999" stroke-width="1.0"/>
<line x1="400.7" y1="439.79999999999995" x2="400.7" y2="449.79999999999995" stroke="#111" stroke-width="1.0"/>
<line x1="403.1" y1="439.79999999999995" x2="403.1" y2="449.79999999999995" stroke="#222" stroke-width="0.8"/>
<line x1="406.3" y1="439.79999999999995" x2="406.3" y2="449.79999999999995" stroke="#aaa" stroke-width="1.0"/>
<line x1="409.0" y1="439.79999999999995" x2="409.0" y2="449.79999999999995" stroke="#777" stroke-width="1.0"/>
<line x1="412.2" y1="439.79999999999995" x2="412.2" y2="449.79999999999995" stroke="#777" stroke-width="1.0"/>
<line x1="413.1" y1="439.79999999999995" x2="413.1" y2="449.79999999999995" stroke="#777" stroke-width="0.8"/>
<line x1="414.7" y1="439.79999999999995" x2="414.7" y2="449.79999999999995" stroke="#222" stroke-width="0.8"/>
<line x1="416.3" y1="439.79999999999995" x2="416.3" y2="449.79999999999995" stroke="#999" stroke-width="0.8"/>
<line x1="419.7" y1="439.79999999999995" x2="419.7" y2="449.79999999999995" stroke="#aaa" stroke-width="0.8"/>
<line x1="421.3" y1="439.79999999999995" x2="421.3" y2="449.79999999999995" stroke="#aaa" stroke-width="1.0"/>
<line x1="423.8" y1="439.79999999999995" x2="423.8" y2="449.79999999999995" stroke="#444" stroke-width="1.3"/>
<line x1="424.7" y1="439.79999999999995" x2="424.7" y2="449.79999999999995" stroke="#222" stroke-width="0.8"/>
<line x1="425.9" y1="439.79999999999995" x2="425.9" y2="449.79999999999995" stroke="#111" stroke-width="1.0"/>
<line x1="428.7" y1="439.79999999999995" x2="428.7" y2="449.79999999999995" stroke="#999" stroke-width="0.8"/>
<line x1="431.2" y1="439.79999999999995" x2="431.2" y2="449.79999999999995" stroke="#999" stroke-width="1.0"/>
<line x1="434.3" y1="439.79999999999995" x2="434.3" y2="449.79999999999995" stroke="#222" stroke-width="1.0"/>
<line x1="435.2" y1="439.79999999999995" x2="435.2" y2="449.79999999999995" stroke="#111" stroke-width="1.3"/>
<line x1="436.1" y1="439.79999999999995" x2="436.1" y2="449.79999999999995" stroke="#444" stroke-width="1.0"/>
<line x1="438.7" y1="439.79999999999995" x2="438.7" y2="449.79999999999995" stroke="#999" stroke-width="0.8"/>
<line x1="441.0" y1="439.79999999999995" x2="441.0" y2="449.79999999999995" stroke="#999" stroke-width="1.0"/>
<line x1="443.5" y1="439.79999999999995" x2="443.5" y2="449.79999999999995" stroke="#777" stroke-width="0.8"/>
<line x1="444.7" y1="439.79999999999995" x2="444.7" y2="449.79999999999995" stroke="#111" stroke-width="1.3"/>
<line x1="446.3" y1="439.79999999999995" x2="446.3" y2="449.79999999999995" stroke="#aaa" stroke-width="1.0"/>
<line x1="449.5" y1="439.79999999999995" x2="449.5" y2="449.79999999999995" stroke="#aaa" stroke-width="1.3"/>
<line x1="451.1" y1="439.79999999999995" x2="451.1" y2="449.79999999999995" stroke="#999" stroke-width="0.8"/>
<line x1="452.7" y1="439.79999999999995" x2="452.7" y2="449.79999999999995" stroke="#222" stroke-width="1.3"/>
<line x1="454.6" y1="439.79999999999995" x2="454.6" y2="449.79999999999995" stroke="#999" stroke-width="0.8"/>
<line x1="456.2" y1="439.79999999999995" x2="456.2" y2="449.79999999999995" stroke="#111" stroke-width="1.0"/>
<line x1="457.4" y1="439.79999999999995" x2="457.4" y2="449.79999999999995" stroke="#555" stroke-width="1.3"/>
<line x1="458.6" y1="439.79999999999995" x2="458.6" y2="449.79999999999995" stroke="#444" stroke-width="1.3"/>
<line x1="461.0" y1="439.79999999999995" x2="461.0" y2="449.79999999999995" stroke="#999" stroke-width="1.3"/>
<line x1="464.7" y1="439.79999999999995" x2="464.7" y2="449.79999999999995" stroke="#555" stroke-width="1.0"/>
<line x1="467.2" y1="439.79999999999995" x2="467.2" y2="449.79999999999995" stroke="#555" stroke-width="1.0"/>
<line x1="470.2" y1="439.79999999999995" x2="470.2" y2="449.79999999999995" stroke="#777" stroke-width="1.0"/>
<line x1="471.4" y1="439.79999999999995" x2="471.4" y2="449.79999999999995" stroke="#111" stroke-width="1.3"/>
<line x1="472.3" y1="439.79999999999995" x2="472.3" y2="449.79999999999995" stroke="#222" stroke-width="0.8"/>
<line x1="475.4" y1="439.79999999999995" x2="475.4" y2="449.79999999999995" stroke="#555" stroke-width="1.0"/>
<line x1="476.6" y1="439.79999999999995" x2="476.6" y2="449.79999999999995" stroke="#aaa" stroke-width="1.0"/>
<line x1="478.2" y1="439.79999999999995" x2="478.2" y2="449.79999999999995" stroke="#555" stroke-width="1.3"/>
<line x1="481.1" y1="439.79999999999995" x2="481.1" y2="449.79999999999995" stroke="#111" stroke-width="0.8"/>
<line x1="482.3" y1="439.79999999999995" x2="482.3" y2="449.79999999999995" stroke="#111" stroke-width="1.0"/>
<line x1="483.5" y1="439.79999999999995" x2="483.5" y2="449.79999999999995" stroke="#555" stroke-width="0.8"/>
<line x1="484.7" y1="439.79999999999995" x2="484.7" y2="449.79999999999995" stroke="#222" stroke-width="1.0"/>
<line x1="490.0" y1="439.79999999999995" x2="490.0" y2="449.79999999999995" stroke="#222" stroke-width="1.0"/>
<line x1="491.6" y1="439.79999999999995" x2="491.6" y2="449.79999999999995" stroke="#777" stroke-width="1.3"/>
<line x1="494.4" y1="439.79999999999995" x2="494.4" y2="449.79999999999995" stroke="#555" stroke-width="0.8"/>
<line x1="499.5" y1="439.79999999999995" x2="499.5" y2="449.79999999999995" stroke="#444" stroke-width="0.8"/>
<line x1="502.8" y1="439.79999999999995" x2="502.8" y2="449.79999999999995" stroke="#aaa" stroke-width="1.3"/>
<line x1="505.8" y1="439.79999999999995" x2="505.8" y2="449.79999999999995" stroke="#777" stroke-width="1.3"/>
<line x1="507.4" y1="439.79999999999995" x2="507.4" y2="449.79999999999995" stroke="#444" stroke-width="1.0"/>
<rect x="353.70" y="449.79999999999995" width="9.60" height="2.5" fill="#c82030"/>
<rect x="363.00" y="449.79999999999995" width="28.20" height="2.5" fill="#d03848"/>
<rect x="390.90" y="449.79999999999995" width="23.55" height="2.5" fill="#d86070"/>
<rect x="414.15" y="449.79999999999995" width="17.35" height="2.5" fill="#e089a0"/>
<rect x="431.20" y="449.79999999999995" width="9.60" height="2.5" fill="#e6b0d0"/>
<rect x="440.50" y="449.79999999999995" width="18.90" height="2.5" fill="#c8c4f0"/>
<rect x="459.10" y="449.79999999999995" width="17.35" height="2.5" fill="#7474e0"/>
<rect x="476.15" y="449.79999999999995" width="23.55" height="2.5" fill="#3434c8"/>
<rect x="499.40" y="449.79999999999995" width="9.60" height="2.5" fill="#0000a8"/>
<polyline points="353.7,429.4 355.4,426.2 357.1,426.5 358.8,426.0 360.6,426.1 362.3,426.9 364.0,427.0 365.8,426.4 367.5,425.0 369.2,425.3 371.0,425.7 373.5,418.4 375.7,415.5 377.9,413.7 379.6,412.8 381.4,413.2 383.1,411.5 384.6,412.8 386.2,412.1 387.7,413.2 389.3,413.0 390.8,413.4 392.3,413.6 393.9,412.1 395.4,411.8 396.9,412.7 398.6,411.3 400.4,409.8 402.1,410.9 403.9,410.8 405.6,409.5 407.1,410.2 408.6,410.1 410.1,410.6 411.6,411.4 413.1,411.7 414.6,413.5 416.2,413.6 417.7,414.7 419.2,415.9 420.8,415.5 422.3,415.8 423.9,416.3 425.4,416.4 427.0,416.6 428.6,416.5 430.2,417.9 431.8,418.6 433.4,419.0 435.0,418.9 436.5,419.1 438.1,419.7 439.6,420.7 441.1,421.3 442.7,421.1 444.2,421.9 445.8,422.6 447.3,423.4 448.8,424.5 450.3,424.7 451.9,424.7 453.4,426.4 454.9,426.5 456.4,427.3 457.9,427.5 459.4,428.4 460.9,429.0 462.5,430.2 464.0,429.9 465.5,431.2 467.1,430.8 468.7,431.6 470.3,430.8 471.9,431.2 473.6,431.4 475.2,432.0 476.8,431.3 478.4,431.9 479.9,432.0 481.5,432.5 483.0,433.1 484.6,434.2 486.1,433.9 487.7,435.0 489.2,434.3 490.8,435.7 492.3,435.3 494.0,435.4 495.7,436.5 497.5,437.1 499.2,436.2 500.9,436.9 502.6,436.1 504.4,434.1 506.1,432.5 507.9,431.6 509.6,431.7" fill="none" stroke="#7ee23c" stroke-width="1.2"/>
<rect x="353.1" y="408.4" width="164.20000000000005" height="44.1" fill="none" stroke="#5a5a5a" stroke-width="1.1"/>
<text x="511.70" y="417.20" font-size="8.2" text-anchor="end" fill="#111" textLength="42.2" lengthAdjust="spacingAndGlyphs" >FDR = 0.022</text>
</svg></body></html>
